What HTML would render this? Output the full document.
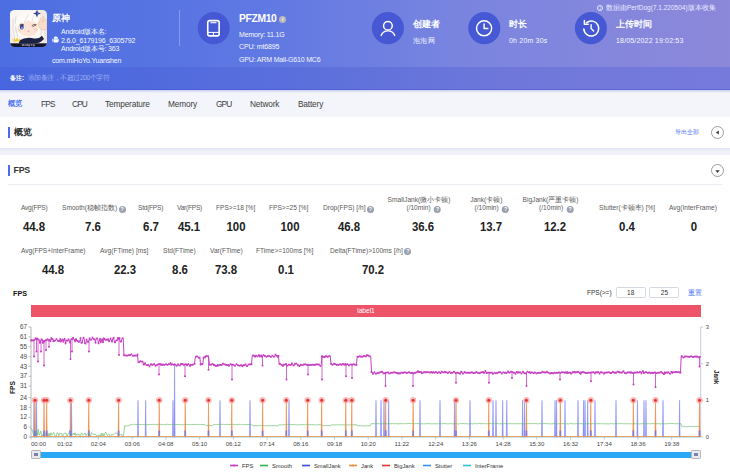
<!DOCTYPE html>
<html lang="zh">
<head>
<meta charset="utf-8">
<title>PerfDog</title>
<style>
*{box-sizing:border-box;margin:0;padding:0}
html,body{width:730px;height:473px;overflow:hidden;background:#fff}
body{font-family:"Liberation Sans",sans-serif;position:relative;color:#333}
.abs{position:absolute;white-space:nowrap;line-height:1}
#hdr{position:absolute;left:0;top:0;width:730px;height:67px;background:linear-gradient(90deg,#4c6ee2 0%,#5f78e3 35%,#7b85df 65%,#8c88da 100%)}
#note{position:absolute;left:0;top:66.5px;width:730px;height:23.5px;background:linear-gradient(90deg,#4766df 0%,#5a6fdc 40%,#6f78da 70%,#757adb 100%)}
#tabs{position:absolute;left:0;top:90px;width:730px;height:27px;background:#f4f5fb}
#note:after{content:"";position:absolute;left:0;bottom:0;width:100%;height:1.2px;background:rgba(60,70,205,.35)}
#tabs:before{content:"";position:absolute;left:0;top:0;width:100%;height:3px;background:linear-gradient(#c9cdf2,#f4f5fb)}
#card1{position:absolute;left:0;top:116.6px;width:730px;height:31px;background:#fff}
#gap{position:absolute;left:0;top:147.5px;width:730px;height:7.6px;background:#f1f2f9}
#gap:before{content:"";position:absolute;left:0;top:0;width:100%;height:3px;background:linear-gradient(#dfe1f2,#f1f2f9)}
#card2{position:absolute;left:0;top:155px;width:730px;height:318px;background:#fff}
.w{color:#fff}
.h1{font-weight:bold;font-size:10.5px;color:#fff}
.sm{font-size:7px;letter-spacing:-0.17px;color:#f6f7ff}
.circ{position:absolute;width:32px;height:32px;border-radius:50%;background:#4556d3}
.tab{font-size:8.3px;letter-spacing:-0.16px;color:#3c3c3c;top:99.8px}
.lab{font-size:6.6px;color:#5a5a5a}
.val{font-size:12.4px;font-weight:bold;color:#222;transform:translateX(-50%) scaleX(.92)}
.ctr{transform:translateX(-50%);text-align:center}
.q{display:inline-block;width:7px;height:7px;border-radius:50%;background:#9aa0ad;color:#fff;font-size:5.4px;line-height:7px;text-align:center;font-weight:bold;vertical-align:-0.6px;margin-left:1.5px}
.btn{position:absolute;width:13px;height:13px;border-radius:50%;border:0.8px solid #9c9c9c;background:#fff}
.inp{position:absolute;height:11px;border-radius:1.5px;border:0.9px solid #d4d8e0;background:#fff;font-size:6.5px;line-height:9.5px;text-align:center;color:#333}
.chart{position:absolute;left:0;top:0}
</style>
</head>
<body>
<div id="hdr"></div>
<div id="note"></div>
<div id="tabs"></div>
<div id="card1"></div>
<div id="gap"></div>
<div id="card2"></div>

<!-- app icon -->
<svg class="abs" style="left:10px;top:10px" width="37" height="37" viewBox="0 0 37 37">
<defs><clipPath id="ic"><rect width="37" height="37" rx="4.6"/></clipPath></defs>
<g clip-path="url(#ic)">
<rect width="37" height="37" fill="#f1e9df"/>
<path d="M0,2 Q8,-2 21,0 Q31,2 33,13 L34,27 Q31,32 26,30 L7,32 Q2,30 1,20 Z" fill="#faf7f3"/>
<path d="M3,8 Q2,20 5,30 M6,6 Q4,18 8,27 M30,8 Q32,16 31,26" stroke="#d9d2cf" stroke-width="0.8" fill="none"/>
<ellipse cx="18" cy="18.3" rx="10.4" ry="8.2" fill="#fbe5d6"/>
<ellipse cx="9.5" cy="20.5" rx="1.8" ry="1" fill="#f6c9bd" opacity=".7"/><ellipse cx="25.5" cy="19.5" rx="1.8" ry="1" fill="#f6c9bd" opacity=".7"/>
<path d="M5,15 Q8,4 19,2.5 Q27,4 29,12 Q25,9 22,13.5 Q19,7 13.5,14 Q10,10 6,18 Z" fill="#fdfbf8"/>
<path d="M13.5,14 Q16,8 19,4 M22,13.5 Q22,8 24,5" stroke="#d8d0cc" stroke-width="0.6" fill="none"/>
<ellipse cx="11.8" cy="16.9" rx="1.9" ry="2.7" fill="#34408e"/>
<ellipse cx="11.9" cy="18" rx="1.1" ry="1.2" fill="#7c90e4"/>
<path d="M9.6,15.2 Q11.6,13.2 14,15" stroke="#3a2a2a" stroke-width="0.8" fill="none"/>
<path d="M21.8,15.8 Q24,13.6 26.3,14.8 M22.6,16.8 Q24.6,15.4 26.3,14.8" stroke="#4e352e" stroke-width="0.7" fill="none"/>
<path d="M17.6,21 Q18.6,22.3 19.7,20.8 Z" fill="#d0544e"/>
<path d="M28,13 L32.5,6.5 L34.4,7.6 L32,12.5 L36,9 L37,10.5 V20 L31,19.5 Q28.5,17 28,13Z" fill="#f8dcc8" stroke="#dca98f" stroke-width="0.4"/>
<path d="M27,-0.2 L28.1,2.5 L31,3.5 L28.1,4.6 L27,7.6 L25.9,4.6 L23,3.5 L25.9,2.5Z" fill="#2b3b88"/>
<path d="M27,1.5 L27.6,3 L29,3.5 L27.6,4 L27,5.6 Z" fill="#5a78d4"/>
<path d="M26.5,22 Q31,24 33.5,31.5 Q29,31.5 26.5,28Z" fill="#faf7f3"/>
<path d="M9,30.5 Q16,26.6 24,28.4 Q29,29.2 32,25.8 L34,29 Q30,33.6 24,33.6 L9,33.6Z" fill="#1d2144"/>
<path d="M3.3,31.6 L3.8,27.8 L5.8,30 L7.1,27.2 L8.4,30 L10.2,28.4 L10,31.6Z" fill="#edcc3e"/>
<rect x="0" y="33.3" width="37" height="3.7" fill="#15162b"/>
<path d="M12.2,36 V34.6 H13 V36 M13,34.6 H13.9 V36 M15,34.4 V36 M16,34 V36 M16,35 H17.6 M17.6,34 V36 M18.6,34.6 H19.8 V36 H18.6Z M20.8,34 L21.6,35 L22.4,34 M21.6,35 V36 M23.2,34.6 H24.4 V36 H23.2Z" stroke="#e6e6ee" stroke-width="0.45" fill="none"/>
</g></svg>

<div class="abs h1" style="left:52px;top:13.5px;font-size:9px">原神</div>
<div class="abs sm" style="left:61px;top:28px">Android版本名:</div>
<svg class="abs" style="left:51.8px;top:36.2px" width="7.6" height="7.6" viewBox="0 0 14 14"><path d="M3,5 a4,4 0 0 1 8,0 z M3,6 h8 v5 a1,1 0 0 1 -1,1 h-6 a1,1 0 0 1 -1,-1z M0.6,6.2 a0.9,0.9 0 0 1 1.8,0 v3.6 a0.9,0.9 0 0 1 -1.8,0z M11.6,6.2 a0.9,0.9 0 0 1 1.8,0 v3.6 a0.9,0.9 0 0 1 -1.8,0z" fill="#fff"/></svg>
<div class="abs sm" style="left:61px;top:36.5px">2.6.0_6179196_6305792</div>
<div class="abs sm" style="left:61px;top:45px">Android版本号: 363</div>
<div class="abs sm" style="left:52px;top:56.5px">com.miHoYo.Yuanshen</div>
<div class="abs" style="left:179px;top:10px;width:1px;height:36px;background:rgba(255,255,255,.28)"></div>

<!-- device -->
<svg class="chart" width="730" height="70" viewBox="0 0 730 70">
<g fill="#4658d4"><circle cx="213.7" cy="28.1" r="16.05"/><circle cx="387.9" cy="28.1" r="16.05"/><circle cx="484.3" cy="28.1" r="16.05"/><circle cx="590.9" cy="28.1" r="16.05"/></g>
<g fill="none" stroke="#fff" stroke-linecap="round" stroke-linejoin="round">
<rect x="207.75" y="20.65" width="11.4" height="15.2" rx="1.9" stroke-width="1.6"/>
<path d="M210.4,22.7 H216.5" stroke-width="1.1" stroke-linecap="butt"/>
<path d="M208,32.4 H219 M213.45,32.6 V35.6" stroke-width="1.0" stroke-linecap="butt"/>
<circle cx="387.9" cy="25.75" r="4.35" stroke-width="1.45"/>
<path d="M381.2,35.4 A7.3,7.3 0 0 1 394.7,35.4" stroke-width="1.45"/>
<circle cx="484.1" cy="28.3" r="7.55" stroke-width="1.5"/>
<path d="M484.1,23.9 V28.4 H487.8" stroke-width="1.5"/>
<path d="M586.6,22.6 A7.5,7.5 0 1 1 583.8,28.9" stroke-width="1.5"/>
<path d="M584.4,20.6 V24.2 H588.2" stroke-width="1.5"/>
<path d="M591.1,24.6 V28.5 L593.6,31" stroke-width="1.4"/>
</g></svg>
<div class="abs h1" style="left:239px;top:14px;font-size:10.3px;letter-spacing:-0.33px">PFZM10</div>
<div class="abs" style="left:279.3px;top:15.5px;width:7px;height:7px;border-radius:50%;background:#b9b7b9;color:#fff;font-size:5.5px;line-height:7px;text-align:center;font-weight:bold;font-style:italic">i</div>
<div class="abs sm" style="left:239px;top:30.8px">Memory: 11.1G</div>
<div class="abs sm" style="left:239px;top:43.4px">CPU: mt6895</div>
<div class="abs sm" style="left:239px;top:56px">GPU: ARM Mali-G610 MC6</div>

<!-- creator -->
<div class="abs h1" style="left:413px;top:19.5px;font-size:9.2px">创建者</div>
<div class="abs sm" style="left:413px;top:37px">泡泡 网</div>

<!-- duration -->
<div class="abs h1" style="left:509px;top:19.5px;font-size:9.2px">时长</div>
<div class="abs sm" style="left:509px;top:37px;letter-spacing:0.19px">0h 20m 30s</div>

<!-- upload -->
<div class="abs h1" style="left:616px;top:19.5px;font-size:9.2px">上传时间</div>
<div class="abs sm" style="left:616px;top:37px;letter-spacing:0.17px">18/05/2022 19:02:53</div>

<div class="abs" style="left:597px;top:4.5px;font-size:6.5px;color:#e9ebff"><span style="display:inline-block;width:6.4px;height:6.4px;border:0.55px solid #e9ebff;border-radius:50%;font-size:4.6px;line-height:5.3px;text-align:center;vertical-align:0px;margin-right:2.5px">i</span>数据由PerfDog(7.1.220504)版本收集</div>

<!-- note -->
<div class="abs" style="left:10px;top:74.7px;font-size:6.4px;color:#fff;font-weight:bold">备注:</div>
<div class="abs" style="left:27.5px;top:74.8px;font-size:6.7px;letter-spacing:-0.45px;color:#9fb0f3">添加备注，不超过200个字符</div>

<!-- tabs -->
<div class="abs tab" style="left:8px;color:#3f6cf5;text-shadow:0 0 0.4px #3f6cf5;font-size:8px;top:100px;letter-spacing:0;transform:scaleX(.9);transform-origin:left center">概览</div>
<div class="abs tab" style="left:41px;letter-spacing:-0.85px">FPS</div>
<div class="abs tab" style="left:72px;letter-spacing:-0.85px">CPU</div>
<div class="abs tab" style="left:105px">Temperature</div>
<div class="abs tab" style="left:168px">Memory</div>
<div class="abs tab" style="left:216px;letter-spacing:-0.85px">GPU</div>
<div class="abs tab" style="left:250px">Network</div>
<div class="abs tab" style="left:298px">Battery</div>

<!-- card 1 -->
<div class="abs" style="left:8.2px;top:126.7px;width:2px;height:11px;background:#4a6cf0"></div>
<div class="abs" style="left:13.5px;top:127.8px;font-size:9.2px;font-weight:bold;color:#333">概览</div>
<div class="abs" style="left:675px;top:129.6px;font-size:5.8px;color:#3f6cf5">导出全部</div>
<div class="btn" style="left:710.5px;top:125.5px"></div>
<svg class="abs" style="left:714.5px;top:129.5px" width="5" height="5" viewBox="0 0 5 5"><path d="M3.8,0.4 V4.6 L0.9,2.5Z" fill="#333"/></svg>

<!-- card 2 header -->
<div class="abs" style="left:8.2px;top:165.3px;width:2px;height:11px;background:#4a6cf0"></div>
<div class="abs" style="left:13.5px;top:166.4px;font-size:8.8px;font-weight:bold;color:#333;letter-spacing:-0.2px">FPS</div>
<div class="btn" style="left:710.5px;top:164px"></div>
<svg class="abs" style="left:714.5px;top:168.5px" width="5" height="5" viewBox="0 0 5 5"><path d="M0.4,1.2 H4.6 L2.5,4.1Z" fill="#333"/></svg>
<div class="abs" style="left:8px;top:184.3px;width:714px;height:1px;background:#ececf2"></div>

<!-- stats row 1 -->
<div class="abs lab" style="left:21px;top:205px;letter-spacing:-0.25px">Avg(FPS)</div>
<div class="abs lab" style="left:62px;top:205px">Smooth(稳帧指数)<span class="q">?</span></div>
<div class="abs lab" style="left:138px;top:205px;letter-spacing:-0.25px">Std(FPS)</div>
<div class="abs lab" style="left:177px;top:205px;letter-spacing:-0.25px">Var(FPS)</div>
<div class="abs lab" style="left:216px;top:205px">FPS&gt;=18 [%]</div>
<div class="abs lab" style="left:269px;top:205px">FPS&gt;=25 [%]</div>
<div class="abs lab" style="left:323px;top:205px">Drop(FPS) [/h]<span class="q">?</span></div>
<div class="abs lab ctr" style="left:419px;top:196.5px">SmallJank(微小卡顿)</div><div class="abs lab ctr" style="left:423.7px;top:205px">(/10min) <span class="q">?</span></div>
<div class="abs lab ctr" style="left:486.3px;top:196.5px">Jank(卡顿)</div><div class="abs lab ctr" style="left:491.8px;top:205px">(/10min) <span class="q">?</span></div>
<div class="abs lab ctr" style="left:550.5px;top:196.5px">BigJank(严重卡顿)</div><div class="abs lab ctr" style="left:556.3px;top:205px">(/10min) <span class="q">?</span></div>
<div class="abs lab" style="left:599px;top:205px">Stutter(卡顿率) [%]</div>
<div class="abs lab" style="left:669px;top:205px">Avg(InterFrame)</div>

<div class="abs val" style="left:34px;top:221.1px">44.8</div>
<div class="abs val" style="left:93px;top:221.1px">7.6</div>
<div class="abs val" style="left:151px;top:221.1px">6.7</div>
<div class="abs val" style="left:189px;top:221.1px">45.1</div>
<div class="abs val" style="left:236px;top:221.1px">100</div>
<div class="abs val" style="left:289.5px;top:221.1px">100</div>
<div class="abs val" style="left:349px;top:221.1px">46.8</div>
<div class="abs val" style="left:423px;top:221.1px">36.6</div>
<div class="abs val" style="left:490.5px;top:221.1px">13.7</div>
<div class="abs val" style="left:554.5px;top:221.1px">12.2</div>
<div class="abs val" style="left:627px;top:221.1px">0.4</div>
<div class="abs val" style="left:693.5px;top:221.1px">0</div>

<!-- stats row 2 -->
<div class="abs lab" style="left:21px;top:247.5px">Avg(FPS+InterFrame)</div>
<div class="abs lab" style="left:100px;top:247.5px">Avg(FTime) [ms]</div>
<div class="abs lab" style="left:163px;top:247.5px">Std(FTime)</div>
<div class="abs lab" style="left:210px;top:247.5px">Var(FTime)</div>
<div class="abs lab" style="left:256px;top:247.5px">FTime&gt;=100ms [%]</div>
<div class="abs lab" style="left:330px;top:247.5px">Delta(FTime)&gt;100ms [/h]<span class="q">?</span></div>

<div class="abs val" style="left:53px;top:263.5px">44.8</div>
<div class="abs val" style="left:125px;top:263.5px">22.3</div>
<div class="abs val" style="left:180px;top:263.5px">8.6</div>
<div class="abs val" style="left:226px;top:263.5px">73.8</div>
<div class="abs val" style="left:286px;top:263.5px">0.1</div>
<div class="abs val" style="left:372.5px;top:263.5px">70.2</div>

<!-- chart header -->
<div class="abs" style="left:13px;top:289.5px;font-size:7.2px;font-weight:bold;color:#111">FPS</div>
<div class="abs" style="left:587px;top:290px;font-size:6.5px;color:#333">FPS(&gt;=)</div>
<div class="inp" style="left:615.6px;top:287px;width:30.2px">18</div>
<div class="inp" style="left:649.4px;top:287px;width:30px">25</div>
<div class="abs" style="left:688.3px;top:289.8px;font-size:6.5px;color:#3f6cf5">重置</div>

<div class="abs" style="left:31px;top:304.5px;width:670px;height:12px;background:#ee5468;color:#fff;font-size:6.6px;line-height:12px;text-align:center">label1</div>

<div class="abs" style="left:10.3px;top:393.5px;font-size:6.6px;font-weight:bold;color:#222;transform:rotate(-90deg);transform-origin:left top;">FPS</div>
<div class="abs" style="left:718.5px;top:369.5px;font-size:6.3px;font-weight:bold;color:#222;transform:rotate(90deg);transform-origin:left top;">Jank</div>

<svg class="chart" width="730" height="473" viewBox="0 0 730 473">
<g font-family="Liberation Sans, sans-serif" font-size="6.3" fill="#444"><line x1="28.5" x2="31" y1="327.0" y2="327.0" stroke="#999" stroke-width="0.6"/><text x="27" y="329.1" text-anchor="end">67</text><line x1="28.5" x2="31" y1="336.9" y2="336.9" stroke="#999" stroke-width="0.6"/><text x="27" y="339.0" text-anchor="end">61</text><line x1="28.5" x2="31" y1="346.7" y2="346.7" stroke="#999" stroke-width="0.6"/><text x="27" y="348.8" text-anchor="end">55</text><line x1="28.5" x2="31" y1="356.6" y2="356.6" stroke="#999" stroke-width="0.6"/><text x="27" y="358.7" text-anchor="end">49</text><line x1="28.5" x2="31" y1="366.4" y2="366.4" stroke="#999" stroke-width="0.6"/><text x="27" y="368.5" text-anchor="end">43</text><line x1="28.5" x2="31" y1="376.3" y2="376.3" stroke="#999" stroke-width="0.6"/><text x="27" y="378.4" text-anchor="end">37</text><line x1="28.5" x2="31" y1="386.1" y2="386.1" stroke="#999" stroke-width="0.6"/><text x="27" y="388.2" text-anchor="end">31</text><line x1="28.5" x2="31" y1="397.6" y2="397.6" stroke="#999" stroke-width="0.6"/><text x="27" y="399.7" text-anchor="end">24</text><line x1="28.5" x2="31" y1="407.4" y2="407.4" stroke="#999" stroke-width="0.6"/><text x="27" y="409.5" text-anchor="end">18</text><line x1="28.5" x2="31" y1="417.3" y2="417.3" stroke="#999" stroke-width="0.6"/><text x="27" y="419.4" text-anchor="end">12</text><line x1="28.5" x2="31" y1="427.1" y2="427.1" stroke="#999" stroke-width="0.6"/><text x="27" y="429.2" text-anchor="end">6</text><line x1="28.5" x2="31" y1="437.0" y2="437.0" stroke="#999" stroke-width="0.6"/><text x="27" y="439.1" text-anchor="end">0</text><line x1="700.7" x2="703.2" y1="437.0" y2="437.0" stroke="#aab" stroke-width="0.6"/><text x="705.8" y="439.0" font-size="5.8">0</text><line x1="700.7" x2="703.2" y1="400.3" y2="400.3" stroke="#aab" stroke-width="0.6"/><text x="705.8" y="402.3" font-size="5.8">1</text><line x1="700.7" x2="703.2" y1="363.7" y2="363.7" stroke="#aab" stroke-width="0.6"/><text x="705.8" y="365.7" font-size="5.8">2</text><line x1="700.7" x2="703.2" y1="327.0" y2="327.0" stroke="#aab" stroke-width="0.6"/><text x="705.8" y="329.0" font-size="5.8">3</text><line x1="31.0" x2="31.0" y1="437" y2="439.5" stroke="#999" stroke-width="0.6"/><text x="38.5" y="446.4" text-anchor="middle" font-size="6.05">00:00</text><line x1="64.7" x2="64.7" y1="437" y2="439.5" stroke="#999" stroke-width="0.6"/><text x="64.7" y="446.4" text-anchor="middle" font-size="6.05">01:02</text><line x1="98.4" x2="98.4" y1="437" y2="439.5" stroke="#999" stroke-width="0.6"/><text x="98.4" y="446.4" text-anchor="middle" font-size="6.05">02:04</text><line x1="132.2" x2="132.2" y1="437" y2="439.5" stroke="#999" stroke-width="0.6"/><text x="132.2" y="446.4" text-anchor="middle" font-size="6.05">03:06</text><line x1="165.9" x2="165.9" y1="437" y2="439.5" stroke="#999" stroke-width="0.6"/><text x="165.9" y="446.4" text-anchor="middle" font-size="6.05">04:08</text><line x1="199.6" x2="199.6" y1="437" y2="439.5" stroke="#999" stroke-width="0.6"/><text x="199.6" y="446.4" text-anchor="middle" font-size="6.05">05:10</text><line x1="233.3" x2="233.3" y1="437" y2="439.5" stroke="#999" stroke-width="0.6"/><text x="233.3" y="446.4" text-anchor="middle" font-size="6.05">06:12</text><line x1="267.1" x2="267.1" y1="437" y2="439.5" stroke="#999" stroke-width="0.6"/><text x="267.1" y="446.4" text-anchor="middle" font-size="6.05">07:14</text><line x1="300.8" x2="300.8" y1="437" y2="439.5" stroke="#999" stroke-width="0.6"/><text x="300.8" y="446.4" text-anchor="middle" font-size="6.05">08:16</text><line x1="334.5" x2="334.5" y1="437" y2="439.5" stroke="#999" stroke-width="0.6"/><text x="334.5" y="446.4" text-anchor="middle" font-size="6.05">09:18</text><line x1="368.2" x2="368.2" y1="437" y2="439.5" stroke="#999" stroke-width="0.6"/><text x="368.2" y="446.4" text-anchor="middle" font-size="6.05">10:20</text><line x1="401.9" x2="401.9" y1="437" y2="439.5" stroke="#999" stroke-width="0.6"/><text x="401.9" y="446.4" text-anchor="middle" font-size="6.05">11:22</text><line x1="435.7" x2="435.7" y1="437" y2="439.5" stroke="#999" stroke-width="0.6"/><text x="435.7" y="446.4" text-anchor="middle" font-size="6.05">12:24</text><line x1="469.4" x2="469.4" y1="437" y2="439.5" stroke="#999" stroke-width="0.6"/><text x="469.4" y="446.4" text-anchor="middle" font-size="6.05">13:26</text><line x1="503.1" x2="503.1" y1="437" y2="439.5" stroke="#999" stroke-width="0.6"/><text x="503.1" y="446.4" text-anchor="middle" font-size="6.05">14:28</text><line x1="536.8" x2="536.8" y1="437" y2="439.5" stroke="#999" stroke-width="0.6"/><text x="536.8" y="446.4" text-anchor="middle" font-size="6.05">15:30</text><line x1="570.6" x2="570.6" y1="437" y2="439.5" stroke="#999" stroke-width="0.6"/><text x="570.6" y="446.4" text-anchor="middle" font-size="6.05">16:32</text><line x1="604.3" x2="604.3" y1="437" y2="439.5" stroke="#999" stroke-width="0.6"/><text x="604.3" y="446.4" text-anchor="middle" font-size="6.05">17:34</text><line x1="638.0" x2="638.0" y1="437" y2="439.5" stroke="#999" stroke-width="0.6"/><text x="638.0" y="446.4" text-anchor="middle" font-size="6.05">18:36</text><line x1="671.7" x2="671.7" y1="437" y2="439.5" stroke="#999" stroke-width="0.6"/><text x="671.7" y="446.4" text-anchor="middle" font-size="6.05">19:38</text></g>
<line x1="31" x2="31" y1="327" y2="437" stroke="#999" stroke-width="0.7"/>
<line x1="700.7" x2="700.7" y1="327" y2="437" stroke="#bdb9e8" stroke-width="0.8"/>
<line x1="31" x2="700.7" y1="437.3" y2="437.3" stroke="#8fd3ea" stroke-width="0.7"/>
<g fill="#7078f4" fill-opacity="0.8" stroke="#6a73f3" stroke-width="0.5" stroke-opacity="0.85"><path d="M33.5,437.0 L34.0,400.3 L34.5,437.0Z"/><path d="M36.0,437.0 L36.5,400.3 L37.0,437.0Z"/><path d="M71.0,437.0 L71.5,400.3 L72.0,437.0Z"/><path d="M137.5,437.0 L138.0,400.3 L138.5,437.0Z"/><path d="M145.2,437.0 L145.7,400.3 L146.2,437.0Z"/><path d="M172.5,437.0 L173.0,400.3 L173.5,437.0Z"/><path d="M174.1,437.0 L174.6,363.7 L175.1,437.0Z"/><path d="M219.5,437.0 L220.0,400.3 L220.5,437.0Z"/><path d="M249.5,437.0 L250.0,400.3 L250.5,437.0Z"/><path d="M288.5,437.0 L289.0,400.3 L289.5,437.0Z"/><path d="M375.5,437.0 L376.0,400.3 L376.5,437.0Z"/><path d="M380.5,437.0 L381.0,400.3 L381.5,437.0Z"/><path d="M383.5,437.0 L384.0,400.3 L384.5,437.0Z"/><path d="M388.2,437.0 L388.7,400.3 L389.2,437.0Z"/><path d="M419.5,437.0 L420.0,400.3 L420.5,437.0Z"/><path d="M439.5,437.0 L440.0,400.3 L440.5,437.0Z"/><path d="M454.0,437.0 L454.5,400.3 L455.0,437.0Z"/><path d="M469.5,437.0 L470.0,400.3 L470.5,437.0Z"/><path d="M492.5,437.0 L493.0,400.3 L493.5,437.0Z"/><path d="M495.5,437.0 L496.0,400.3 L496.5,437.0Z"/><path d="M502.2,437.0 L502.7,400.3 L503.2,437.0Z"/><path d="M506.3,437.0 L506.8,400.3 L507.3,437.0Z"/><path d="M522.1,437.0 L522.6,400.3 L523.1,437.0Z"/><path d="M524.0,437.0 L524.5,400.3 L525.0,437.0Z"/><path d="M541.5,437.0 L542.0,400.3 L542.5,437.0Z"/><path d="M554.5,437.0 L555.0,400.3 L555.5,437.0Z"/><path d="M556.0,437.0 L556.5,400.3 L557.0,437.0Z"/><path d="M564.5,437.0 L565.0,400.3 L565.5,437.0Z"/><path d="M577.5,437.0 L578.0,400.3 L578.5,437.0Z"/><path d="M583.1,437.0 L583.6,400.3 L584.1,437.0Z"/><path d="M584.5,437.0 L585.0,400.3 L585.5,437.0Z"/><path d="M587.2,437.0 L587.7,400.3 L588.2,437.0Z"/><path d="M594.5,437.0 L595.0,400.3 L595.5,437.0Z"/><path d="M615.5,437.0 L616.0,400.3 L616.5,437.0Z"/><path d="M636.9,437.0 L637.4,400.3 L637.9,437.0Z"/><path d="M643.5,437.0 L644.0,400.3 L644.5,437.0Z"/><path d="M645.5,437.0 L646.0,400.3 L646.5,437.0Z"/><path d="M662.5,437.0 L663.0,400.3 L663.5,437.0Z"/><path d="M679.1,437.0 L679.6,400.3 L680.1,437.0Z"/></g>
<path d="M31.0,428.0 L32.0,429.6 L32.8,432.4 L33.7,435.4 L34.6,433.7 L35.5,435.7 L36.4,431.0 L37.3,435.1 L38.2,429.1 L39.1,435.3 L40.0,433.2 L40.9,431.1 L41.8,436.7 L42.7,435.0 L43.6,433.6 L44.5,434.5 L45.4,435.4 L46.3,431.2 L47.2,434.3 L48.1,436.7 L49.0,433.1 L49.9,436.7 L50.8,432.7 L51.7,435.2 L52.6,434.2 L53.5,432.5 L54.4,434.2 L55.3,436.4 L56.2,436.7 L57.1,432.6 L58.0,433.3 L58.9,435.6 L59.8,433.1 L60.7,433.6 L61.6,433.4 L62.5,436.7 L63.4,434.8 L64.3,433.0 L65.2,433.3 L66.1,433.1 L67.0,436.7 L67.9,434.1 L68.8,433.6 L69.7,430.6 L70.6,435.8 L71.5,434.9 L72.4,434.3 L73.3,433.1 L74.2,435.0 L75.1,432.7 L76.0,435.5 L76.9,434.0 L77.8,435.2 L78.7,434.1 L79.6,435.4 L80.5,436.7 L81.4,432.8 L82.3,433.9 L83.2,435.2 L84.1,434.1 L85.0,432.9 L85.9,435.8 L86.8,434.5 L87.7,433.6 L88.6,433.6 L89.5,434.9 L90.4,436.7 L91.3,432.5 L92.2,433.9 L93.1,434.4 L94.0,434.8 L94.9,434.0 L95.8,435.0 L96.7,435.9 L97.6,435.5 L98.5,435.3 L99.4,435.3 L100.3,436.1 L101.2,433.4 L102.1,436.3 L103.0,433.4 L103.9,435.9 L104.8,433.9 L105.7,432.3 L106.6,434.1 L107.5,435.5 L108.4,434.3 L109.3,434.2 L110.2,436.7 L111.1,435.3 L112.0,434.1 L112.9,435.1 L113.8,434.3 L114.7,433.3 L115.6,433.2 L116.5,433.0 L117.4,433.5 L118.3,434.8 L119.2,434.4 L120.1,434.8 L121.0,434.8 L121.9,434.6 L122.8,436.7 L123.7,434.9 L124.6,425.8 L125.5,426.0 L126.4,425.8 L127.3,425.8 L128.2,425.9 L129.1,425.6 L130.0,424.9 L130.9,424.5 L131.8,424.8 L132.7,424.4 L133.6,424.2 L134.5,424.9 L135.4,424.5 L136.3,424.5 L137.2,424.6 L138.1,424.4 L139.0,424.8 L139.9,424.4 L140.8,424.5 L141.7,424.5 L142.6,424.6 L143.5,424.4 L144.4,424.6 L145.3,424.5 L146.2,424.6 L147.1,424.8 L148.0,424.5 L148.9,424.5 L149.8,424.4 L150.7,424.6 L151.6,424.5 L152.5,424.4 L153.4,424.5 L154.3,424.4 L155.2,424.3 L156.1,424.6 L157.0,424.8 L157.9,424.4 L158.8,424.3 L159.7,424.4 L160.6,424.4 L161.5,424.6 L162.4,424.6 L163.3,424.4 L164.2,424.6 L165.1,424.8 L166.0,424.7 L166.9,424.2 L167.8,424.3 L168.7,424.6 L169.6,424.6 L170.5,424.5 L171.4,424.6 L172.3,424.4 L173.2,424.5 L174.1,424.7 L175.0,424.4 L175.9,424.6 L176.8,424.5 L177.7,424.5 L178.6,424.6 L179.5,424.5 L180.4,424.6 L181.3,424.8 L182.2,424.8 L183.1,424.7 L184.0,424.6 L184.9,424.5 L185.8,424.5 L186.7,424.4 L187.6,424.5 L188.5,424.6 L189.4,424.6 L190.3,424.8 L191.2,424.5 L192.1,424.5 L193.0,424.5 L193.9,424.5 L194.8,424.5 L195.7,424.4 L196.6,424.5 L197.5,424.4 L198.4,424.4 L199.3,424.5 L200.2,424.4 L201.1,424.6 L202.0,424.6 L202.9,424.6 L203.8,424.6 L204.7,424.3 L205.6,425.3 L206.5,425.5 L207.4,425.4 L208.3,425.4 L209.2,425.4 L210.1,425.3 L211.0,425.7 L211.9,425.6 L212.8,425.4 L213.7,424.3 L214.6,424.5 L215.5,424.6 L216.4,424.6 L217.3,424.6 L218.2,424.6 L219.1,424.3 L220.0,424.6 L220.9,424.5 L221.8,424.2 L222.7,424.4 L223.6,424.5 L224.5,424.6 L225.4,424.5 L226.3,424.3 L227.2,424.4 L228.1,424.4 L229.0,424.5 L229.9,424.5 L230.8,424.5 L231.7,424.5 L232.6,424.4 L233.5,424.7 L234.4,424.5 L235.3,424.5 L236.2,424.6 L237.1,424.6 L238.0,424.4 L238.9,424.3 L239.8,424.4 L240.7,424.5 L241.6,424.7 L242.5,424.3 L243.4,424.5 L244.3,424.5 L245.2,424.7 L246.1,424.5 L247.0,424.7 L247.9,424.5 L248.8,424.5 L249.7,424.5 L250.6,424.5 L251.5,424.6 L252.4,425.5 L253.3,425.8 L254.2,425.9 L255.1,425.7 L256.0,425.8 L256.9,425.8 L257.8,425.7 L258.7,425.6 L259.6,425.8 L260.5,425.7 L261.4,425.5 L262.3,425.6 L263.2,425.7 L264.1,425.7 L265.0,425.7 L265.9,425.7 L266.8,425.6 L267.7,425.7 L268.6,426.0 L269.5,425.7 L270.4,425.8 L271.3,425.6 L272.2,425.8 L273.1,425.7 L274.0,425.4 L274.9,425.8 L275.8,425.8 L276.7,425.9 L277.6,426.0 L278.5,425.9 L279.4,424.6 L280.3,424.8 L281.2,424.9 L282.1,424.9 L283.0,424.6 L283.9,424.8 L284.8,424.7 L285.7,424.6 L286.6,424.5 L287.5,424.4 L288.4,424.6 L289.3,424.7 L290.2,424.7 L291.1,424.4 L292.0,424.5 L292.9,424.7 L293.8,424.6 L294.7,424.6 L295.6,424.7 L296.5,424.8 L297.4,424.9 L298.3,424.8 L299.2,424.9 L300.1,424.5 L301.0,424.6 L301.9,424.8 L302.8,424.5 L303.7,424.6 L304.6,424.9 L305.5,424.4 L306.4,424.6 L307.3,424.4 L308.2,424.8 L309.1,424.6 L310.0,424.6 L310.9,424.7 L311.8,424.7 L312.7,424.5 L313.6,424.9 L314.5,424.8 L315.4,424.9 L316.3,424.8 L317.2,424.8 L318.1,424.6 L319.0,424.7 L319.9,424.7 L320.8,424.8 L321.7,424.7 L322.6,425.5 L323.5,425.6 L324.4,425.7 L325.3,425.7 L326.2,425.5 L327.1,425.7 L328.0,425.6 L328.9,425.5 L329.8,425.7 L330.7,425.6 L331.6,425.0 L332.5,424.7 L333.4,424.8 L334.3,425.1 L335.2,424.8 L336.1,425.0 L337.0,424.7 L337.9,424.9 L338.8,424.9 L339.7,424.8 L340.6,424.9 L341.5,424.8 L342.4,424.9 L343.3,424.8 L344.2,424.9 L345.1,424.8 L346.0,425.2 L346.9,424.7 L347.8,424.8 L348.7,425.1 L349.6,424.8 L350.5,424.8 L351.4,424.7 L352.3,425.0 L353.2,424.6 L354.1,424.9 L355.0,424.5 L355.9,424.9 L356.8,424.8 L357.7,425.9 L358.6,426.0 L359.5,425.7 L360.4,425.7 L361.3,425.6 L362.2,425.7 L363.1,425.9 L364.0,426.1 L364.9,425.9 L365.8,425.9 L366.7,425.9 L367.6,425.8 L368.5,425.8 L369.4,425.9 L370.3,425.8 L371.2,423.7 L372.1,423.7 L373.0,423.6 L373.9,423.6 L374.8,423.8 L375.7,423.9 L376.6,423.5 L377.5,423.7 L378.4,423.6 L379.3,423.9 L380.2,423.7 L381.1,423.7 L382.0,423.9 L382.9,423.8 L383.8,423.6 L384.7,423.6 L385.6,423.5 L386.5,423.8 L387.4,423.9 L388.3,423.6 L389.2,423.6 L390.1,423.7 L391.0,423.9 L391.9,423.6 L392.8,423.6 L393.7,423.6 L394.6,423.8 L395.5,423.7 L396.4,423.6 L397.3,423.8 L398.2,423.9 L399.1,423.7 L400.0,423.6 L400.9,423.7 L401.8,423.6 L402.7,423.8 L403.6,423.7 L404.5,423.7 L405.4,423.6 L406.3,423.5 L407.2,423.7 L408.1,423.4 L409.0,423.5 L409.9,423.6 L410.8,423.6 L411.7,423.5 L412.6,423.7 L413.5,423.7 L414.4,423.8 L415.3,423.6 L416.2,423.5 L417.1,423.6 L418.0,423.6 L418.9,423.7 L419.8,423.7 L420.7,423.9 L421.6,423.6 L422.5,423.8 L423.4,423.8 L424.3,423.8 L425.2,423.8 L426.1,423.6 L427.0,423.6 L427.9,423.9 L428.8,423.6 L429.7,423.6 L430.6,423.8 L431.5,423.9 L432.4,423.8 L433.3,423.8 L434.2,423.7 L435.1,423.7 L436.0,424.0 L436.9,423.7 L437.8,423.9 L438.7,423.6 L439.6,423.9 L440.5,423.8 L441.4,423.8 L442.3,423.8 L443.2,423.5 L444.1,423.6 L445.0,423.6 L445.9,423.7 L446.8,423.9 L447.7,423.8 L448.6,423.8 L449.5,423.8 L450.4,423.6 L451.3,423.8 L452.2,423.8 L453.1,423.8 L454.0,424.0 L454.9,423.6 L455.8,423.5 L456.7,423.7 L457.6,423.8 L458.5,424.1 L459.4,423.7 L460.3,423.5 L461.2,423.7 L462.1,423.6 L463.0,423.5 L463.9,423.6 L464.8,423.8 L465.7,423.6 L466.6,423.6 L467.5,423.9 L468.4,423.8 L469.3,423.9 L470.2,423.7 L471.1,423.6 L472.0,423.8 L472.9,424.0 L473.8,423.5 L474.7,423.7 L475.6,423.5 L476.5,423.9 L477.4,423.6 L478.3,423.4 L479.2,423.4 L480.1,423.7 L481.0,423.7 L481.9,423.7 L482.8,423.6 L483.7,423.6 L484.6,423.7 L485.5,423.9 L486.4,423.6 L487.3,423.8 L488.2,423.6 L489.1,423.7 L490.0,423.5 L490.9,423.6 L491.8,423.8 L492.7,423.7 L493.6,423.5 L494.5,423.8 L495.4,423.6 L496.3,423.5 L497.2,423.5 L498.1,423.6 L499.0,423.9 L499.9,423.9 L500.8,423.7 L501.7,423.7 L502.6,423.4 L503.5,423.8 L504.4,423.6 L505.3,423.6 L506.2,423.9 L507.1,423.8 L508.0,423.7 L508.9,423.8 L509.8,423.7 L510.7,423.6 L511.6,423.8 L512.5,423.6 L513.4,423.8 L514.3,423.8 L515.2,423.6 L516.1,423.8 L517.0,423.7 L517.9,423.5 L518.8,423.7 L519.7,423.7 L520.6,423.6 L521.5,423.7 L522.4,423.6 L523.3,423.9 L524.2,423.6 L525.1,423.8 L526.0,423.8 L526.9,423.5 L527.8,423.8 L528.7,423.5 L529.6,423.6 L530.5,423.5 L531.4,423.8 L532.3,423.5 L533.2,423.5 L534.1,423.7 L535.0,423.7 L535.9,423.4 L536.8,423.7 L537.7,423.8 L538.6,423.8 L539.5,423.6 L540.4,423.7 L541.3,423.7 L542.2,423.5 L543.1,423.7 L544.0,423.6 L544.9,423.5 L545.8,423.8 L546.7,423.6 L547.6,423.5 L548.5,423.9 L549.4,423.8 L550.3,423.8 L551.2,423.9 L552.1,423.6 L553.0,423.9 L553.9,423.6 L554.8,423.5 L555.7,423.9 L556.6,423.7 L557.5,424.0 L558.4,423.6 L559.3,423.8 L560.2,423.7 L561.1,423.7 L562.0,423.6 L562.9,423.7 L563.8,423.7 L564.7,423.8 L565.6,423.7 L566.5,423.9 L567.4,423.7 L568.3,424.0 L569.2,423.8 L570.1,423.4 L571.0,423.7 L571.9,423.9 L572.8,423.7 L573.7,423.8 L574.6,423.9 L575.5,423.8 L576.4,423.6 L577.3,423.7 L578.2,423.7 L579.1,423.8 L580.0,423.8 L580.9,423.5 L581.8,423.7 L582.7,423.8 L583.6,424.0 L584.5,423.9 L585.4,423.4 L586.3,423.9 L587.2,423.7 L588.1,423.7 L589.0,423.7 L589.9,423.7 L590.8,423.9 L591.7,423.8 L592.6,423.5 L593.5,423.8 L594.4,423.6 L595.3,423.9 L596.2,423.7 L597.1,423.7 L598.0,423.6 L598.9,423.8 L599.8,423.6 L600.7,423.7 L601.6,423.8 L602.5,423.6 L603.4,423.8 L604.3,423.8 L605.2,423.7 L606.1,424.1 L607.0,423.7 L607.9,423.8 L608.8,423.9 L609.7,423.8 L610.6,423.6 L611.5,423.8 L612.4,423.5 L613.3,423.9 L614.2,423.9 L615.1,423.5 L616.0,423.6 L616.9,423.6 L617.8,423.8 L618.7,423.6 L619.6,423.7 L620.5,423.6 L621.4,423.7 L622.3,423.5 L623.2,423.8 L624.1,423.8 L625.0,423.9 L625.9,423.5 L626.8,423.8 L627.7,423.8 L628.6,423.8 L629.5,423.8 L630.4,423.9 L631.3,423.7 L632.2,423.8 L633.1,423.8 L634.0,423.8 L634.9,423.7 L635.8,423.8 L636.7,423.7 L637.6,423.7 L638.5,423.7 L639.4,424.0 L640.3,423.8 L641.2,423.8 L642.1,423.6 L643.0,423.9 L643.9,423.8 L644.8,423.7 L645.7,423.7 L646.6,423.6 L647.5,423.8 L648.4,423.6 L649.3,423.9 L650.2,423.9 L651.1,423.5 L652.0,423.6 L652.9,423.6 L653.8,423.7 L654.7,423.6 L655.6,423.9 L656.5,423.6 L657.4,423.8 L658.3,423.6 L659.2,423.7 L660.1,424.0 L661.0,423.9 L661.9,423.6 L662.8,423.7 L663.7,423.8 L664.6,423.7 L665.5,423.8 L666.4,423.8 L667.3,423.7 L668.2,423.7 L669.1,423.5 L670.0,423.7 L670.9,423.5 L671.8,423.5 L672.7,423.5 L673.6,423.6 L674.5,423.7 L675.4,423.7 L676.3,423.7 L677.2,423.8 L678.1,423.7 L679.0,423.8 L679.9,423.5 L680.8,423.6 L681.7,426.6 L682.6,426.7 L683.5,426.5 L684.4,426.5 L685.3,426.6 L686.2,426.6 L687.1,426.8 L688.0,426.4 L688.9,426.5 L689.8,426.2 L690.7,426.5 L691.6,426.5 L692.5,426.3 L693.4,426.5 L694.3,426.5 L695.2,426.5 L696.1,426.6 L697.0,426.3 L697.9,426.4 L698.8,426.3 L699.7,426.5" fill="none" stroke="#5cb85f" stroke-width="0.7" stroke-opacity="0.9"/>
<g fill="#f08a3c" stroke="#ee7a30" stroke-width="0.5"><path d="M34.5,437.0 L35.0,400.3 L35.5,437.0Z"/><path d="M43.5,437.0 L44.0,400.3 L44.5,437.0Z"/><path d="M46.2,437.0 L46.7,400.3 L47.2,437.0Z"/><path d="M70.0,437.0 L70.4,400.3 L70.9,437.0Z"/><path d="M88.3,437.0 L88.8,400.3 L89.2,437.0Z"/><path d="M118.1,437.0 L118.6,400.3 L119.0,437.0Z"/><path d="M158.8,437.0 L159.2,400.3 L159.6,437.0Z"/><path d="M184.8,437.0 L185.2,400.3 L185.6,437.0Z"/><path d="M208.1,437.0 L208.5,400.3 L208.9,437.0Z"/><path d="M231.4,437.0 L231.8,400.3 L232.2,437.0Z"/><path d="M262.2,437.0 L262.6,400.3 L263.1,437.0Z"/><path d="M285.9,437.0 L286.3,400.3 L286.8,437.0Z"/><path d="M307.2,437.0 L307.7,400.3 L308.1,437.0Z"/><path d="M321.2,437.0 L321.7,400.3 L322.1,437.0Z"/><path d="M345.4,437.0 L345.8,400.3 L346.2,437.0Z"/><path d="M351.4,437.0 L351.8,400.3 L352.2,437.0Z"/><path d="M385.2,437.0 L385.7,400.3 L386.1,437.0Z"/><path d="M412.7,437.0 L413.1,400.3 L413.6,437.0Z"/><path d="M455.6,437.0 L456.0,400.3 L456.4,437.0Z"/><path d="M488.4,437.0 L488.8,400.3 L489.2,437.0Z"/><path d="M525.9,437.0 L526.4,400.3 L526.9,437.0Z"/><path d="M559.8,437.0 L560.3,400.3 L560.8,437.0Z"/><path d="M590.3,437.0 L590.8,400.3 L591.2,437.0Z"/><path d="M632.8,437.0 L633.3,400.3 L633.8,437.0Z"/><path d="M655.0,437.0 L655.5,400.3 L656.0,437.0Z"/><path d="M699.0,437.0 L699.5,400.3 L700.0,437.0Z"/></g>
<g fill="#6a73f3" fill-opacity="0.75"><rect x="34.1" y="430.5" width="1.8" height="6.5"/><rect x="43.1" y="430.5" width="1.8" height="6.5"/><rect x="45.8" y="430.5" width="1.8" height="6.5"/><rect x="69.5" y="430.5" width="1.8" height="6.5"/><rect x="87.9" y="430.5" width="1.8" height="6.5"/><rect x="117.7" y="430.5" width="1.8" height="6.5"/><rect x="158.3" y="430.5" width="1.8" height="6.5"/><rect x="184.3" y="430.5" width="1.8" height="6.5"/><rect x="207.6" y="430.5" width="1.8" height="6.5"/><rect x="230.9" y="430.5" width="1.8" height="6.5"/><rect x="261.7" y="430.5" width="1.8" height="6.5"/><rect x="285.4" y="430.5" width="1.8" height="6.5"/><rect x="306.8" y="430.5" width="1.8" height="6.5"/><rect x="320.8" y="430.5" width="1.8" height="6.5"/><rect x="344.9" y="430.5" width="1.8" height="6.5"/><rect x="350.9" y="430.5" width="1.8" height="6.5"/><rect x="384.8" y="430.5" width="1.8" height="6.5"/><rect x="412.2" y="430.5" width="1.8" height="6.5"/><rect x="455.1" y="430.5" width="1.8" height="6.5"/><rect x="487.9" y="430.5" width="1.8" height="6.5"/><rect x="525.5" y="430.5" width="1.8" height="6.5"/><rect x="559.4" y="430.5" width="1.8" height="6.5"/><rect x="589.9" y="430.5" width="1.8" height="6.5"/><rect x="632.4" y="430.5" width="1.8" height="6.5"/><rect x="654.6" y="430.5" width="1.8" height="6.5"/><rect x="698.6" y="430.5" width="1.8" height="6.5"/></g>
<line x1="31" x2="700.7" y1="436.5" y2="436.5" stroke="#f0954a" stroke-width="0.9"/>
<g fill="#f6a6a6" fill-opacity="0.75"><circle cx="35.0" cy="400.3" r="3.2"/><circle cx="44.0" cy="400.3" r="3.2"/><circle cx="46.7" cy="400.3" r="3.2"/><circle cx="70.4" cy="400.3" r="3.2"/><circle cx="88.8" cy="400.3" r="3.2"/><circle cx="118.6" cy="400.3" r="3.2"/><circle cx="159.2" cy="400.3" r="3.2"/><circle cx="185.2" cy="400.3" r="3.2"/><circle cx="208.5" cy="400.3" r="3.2"/><circle cx="231.8" cy="400.3" r="3.2"/><circle cx="262.6" cy="400.3" r="3.2"/><circle cx="286.3" cy="400.3" r="3.2"/><circle cx="307.7" cy="400.3" r="3.2"/><circle cx="321.7" cy="400.3" r="3.2"/><circle cx="345.8" cy="400.3" r="3.2"/><circle cx="351.8" cy="400.3" r="3.2"/><circle cx="385.7" cy="400.3" r="3.2"/><circle cx="413.1" cy="400.3" r="3.2"/><circle cx="456.0" cy="400.3" r="3.2"/><circle cx="488.8" cy="400.3" r="3.2"/><circle cx="526.4" cy="400.3" r="3.2"/><circle cx="560.3" cy="400.3" r="3.2"/><circle cx="590.8" cy="400.3" r="3.2"/><circle cx="633.3" cy="400.3" r="3.2"/><circle cx="655.5" cy="400.3" r="3.2"/><circle cx="699.5" cy="400.3" r="3.2"/></g>
<g fill="#e5322d"><circle cx="35.0" cy="400.3" r="1.5"/><circle cx="44.0" cy="400.3" r="1.5"/><circle cx="46.7" cy="400.3" r="1.5"/><circle cx="70.4" cy="400.3" r="1.5"/><circle cx="88.8" cy="400.3" r="1.5"/><circle cx="118.6" cy="400.3" r="1.5"/><circle cx="159.2" cy="400.3" r="1.5"/><circle cx="185.2" cy="400.3" r="1.5"/><circle cx="208.5" cy="400.3" r="1.5"/><circle cx="231.8" cy="400.3" r="1.5"/><circle cx="262.6" cy="400.3" r="1.5"/><circle cx="286.3" cy="400.3" r="1.5"/><circle cx="307.7" cy="400.3" r="1.5"/><circle cx="321.7" cy="400.3" r="1.5"/><circle cx="345.8" cy="400.3" r="1.5"/><circle cx="351.8" cy="400.3" r="1.5"/><circle cx="385.7" cy="400.3" r="1.5"/><circle cx="413.1" cy="400.3" r="1.5"/><circle cx="456.0" cy="400.3" r="1.5"/><circle cx="488.8" cy="400.3" r="1.5"/><circle cx="526.4" cy="400.3" r="1.5"/><circle cx="560.3" cy="400.3" r="1.5"/><circle cx="590.8" cy="400.3" r="1.5"/><circle cx="633.3" cy="400.3" r="1.5"/><circle cx="655.5" cy="400.3" r="1.5"/><circle cx="699.5" cy="400.3" r="1.5"/></g>
<path d="M31.0,340.6 L31.8,339.3 L32.5,340.5 L33.2,340.7 L34.0,340.1 L34.8,340.5 L35.5,338.3 L36.5,340.1 L37.0,338.4 L38.0,340.1 L38.5,339.5 L39.2,339.8 L40.0,342.9 L41.0,340.1 L41.5,339.3 L42.2,339.3 L43.0,342.9 L44.0,340.1 L44.5,341.6 L45.2,340.9 L46.0,340.1 L46.8,340.2 L47.5,339.3 L48.2,341.2 L49.0,340.1 L49.8,339.5 L50.5,341.2 L51.2,337.3 L52.0,339.2 L52.8,338.2 L53.5,341.2 L54.2,341.3 L55.0,340.7 L55.8,340.3 L56.5,339.1 L57.2,339.7 L58.0,340.9 L58.8,341.7 L59.5,341.0 L60.2,338.1 L61.0,341.5 L61.8,339.7 L62.5,339.4 L63.2,342.6 L64.0,340.1 L64.8,338.0 L65.5,343.4 L66.2,340.7 L67.0,340.3 L67.8,341.5 L68.5,339.3 L69.2,340.2 L70.0,342.5 L70.5,340.1 L71.5,339.0 L72.0,340.1 L73.0,337.8 L73.8,339.5 L74.5,339.9 L75.2,342.3 L76.0,339.1 L76.8,341.1 L77.5,340.9 L78.2,342.2 L79.0,341.7 L79.8,341.0 L80.5,338.0 L81.2,343.5 L82.0,342.5 L82.8,339.7 L83.5,337.8 L84.2,339.2 L85.0,343.3 L85.8,344.3 L86.5,339.5 L87.2,341.3 L88.0,342.0 L89.0,340.1 L89.5,338.3 L90.2,339.9 L91.0,339.7 L91.8,339.4 L92.5,337.5 L93.2,339.1 L94.0,339.3 L94.8,339.2 L95.5,342.7 L96.2,338.0 L97.0,338.6 L97.8,339.3 L98.5,343.4 L99.2,341.2 L100.0,338.8 L100.8,343.1 L101.5,340.4 L102.2,338.5 L103.0,342.3 L103.8,337.5 L104.5,339.2 L105.2,340.4 L106.0,339.6 L106.8,339.1 L107.5,339.9 L108.2,338.3 L109.0,341.2 L109.8,340.8 L110.5,338.4 L111.2,340.1 L112.0,341.6 L112.8,338.6 L113.5,337.7 L114.2,340.9 L115.0,342.4 L115.8,340.4 L116.5,340.4 L117.2,340.6 L118.0,337.8 L119.0,340.1 L119.5,338.1 L120.2,342.2 L121.0,341.4 L121.8,339.1 L122.5,338.3 L123.2,338.7 L124.0,355.4 L124.8,355.5 L125.5,355.5 L126.2,355.2 L127.0,355.7 L127.8,355.4 L128.5,355.2 L129.2,355.6 L130.0,355.1 L130.8,355.2 L131.5,354.3 L132.2,355.4 L133.0,355.8 L133.8,355.8 L134.5,355.6 L135.2,355.0 L136.0,355.8 L136.8,355.3 L137.5,354.4 L138.2,363.1 L139.0,362.2 L139.8,361.3 L140.5,361.2 L141.2,361.3 L142.0,361.7 L142.8,361.1 L143.5,364.6 L144.2,365.1 L145.0,363.2 L145.8,364.5 L146.5,365.1 L147.2,364.8 L148.0,364.9 L148.8,364.8 L149.5,366.5 L150.2,365.1 L151.0,364.1 L151.8,365.5 L152.5,364.8 L153.2,364.2 L154.0,364.2 L154.8,363.8 L155.5,365.8 L156.2,365.0 L157.0,365.0 L157.8,364.4 L158.5,364.1 L159.0,364.8 L160.0,364.1 L160.8,365.7 L161.5,364.3 L162.2,365.7 L163.0,364.7 L163.8,364.0 L164.5,364.9 L165.2,364.6 L166.0,364.3 L166.8,364.7 L167.5,364.8 L168.2,363.8 L169.0,364.1 L169.8,364.9 L170.5,363.0 L171.2,365.5 L172.0,364.2 L172.8,364.9 L173.5,364.7 L174.2,364.3 L175.0,364.6 L175.8,364.4 L176.5,365.7 L177.2,365.7 L178.0,364.4 L178.8,365.4 L179.5,365.4 L180.2,365.7 L181.0,364.0 L181.8,364.3 L182.5,363.8 L183.2,365.3 L184.0,364.8 L185.0,364.8 L185.5,364.3 L186.2,363.8 L187.0,365.3 L187.8,363.8 L188.5,364.1 L189.2,364.9 L190.0,366.0 L190.8,363.9 L191.5,364.8 L192.2,365.1 L193.0,364.5 L193.8,364.5 L194.5,363.8 L195.2,358.0 L196.0,356.7 L196.8,356.4 L197.5,356.5 L198.2,357.5 L199.0,357.8 L199.8,356.7 L200.5,364.7 L201.2,364.7 L202.0,363.9 L202.8,364.9 L203.5,357.7 L204.2,356.5 L205.0,357.4 L205.8,355.7 L206.5,356.0 L207.2,356.6 L208.0,356.2 L208.5,356.2 L209.5,364.7 L210.2,363.9 L211.0,364.8 L211.8,364.1 L212.5,363.8 L213.2,363.8 L214.0,365.2 L214.8,364.2 L215.5,365.9 L216.2,365.4 L217.0,366.0 L217.8,364.1 L218.5,365.5 L219.2,364.8 L220.0,364.9 L220.8,364.8 L221.5,365.1 L222.2,364.6 L223.0,363.6 L223.8,364.7 L224.5,364.4 L225.2,364.1 L226.0,364.9 L226.8,365.5 L227.5,365.1 L228.2,364.1 L229.0,365.8 L229.8,365.1 L230.5,364.1 L231.2,364.3 L232.0,364.8 L232.8,364.3 L233.5,364.7 L234.2,365.5 L235.0,365.7 L235.8,365.2 L236.5,364.2 L237.2,365.1 L238.0,365.3 L238.8,365.2 L239.5,365.7 L240.2,364.8 L241.0,365.5 L241.8,364.5 L242.5,366.2 L243.2,364.6 L244.0,365.2 L244.8,366.0 L245.5,364.3 L246.2,364.9 L247.0,366.2 L247.8,365.3 L248.5,364.6 L249.2,365.0 L250.0,364.3 L250.8,364.3 L251.5,364.3 L252.2,356.0 L253.0,355.4 L253.8,355.8 L254.5,355.9 L255.2,357.5 L256.0,355.7 L256.8,355.4 L257.5,356.4 L258.2,356.5 L259.0,355.0 L259.8,357.3 L260.5,355.9 L261.2,354.7 L262.0,356.8 L262.5,356.2 L263.5,355.0 L264.2,356.3 L265.0,355.9 L265.8,355.7 L266.5,356.8 L267.2,356.3 L268.0,356.0 L268.8,355.7 L269.5,356.2 L270.2,356.3 L271.0,356.9 L271.8,356.4 L272.5,355.7 L273.2,356.2 L274.0,356.8 L274.8,356.7 L275.5,354.6 L276.2,355.5 L277.0,355.8 L277.8,357.8 L278.5,355.8 L279.2,364.5 L280.0,363.7 L280.8,364.5 L281.5,364.8 L282.2,364.4 L283.0,366.0 L283.8,364.1 L284.5,364.6 L285.2,365.2 L286.0,363.9 L286.5,364.8 L287.5,365.6 L288.2,365.2 L289.0,364.6 L289.8,364.6 L290.5,365.0 L291.2,365.4 L292.0,363.4 L292.8,364.1 L293.5,365.5 L294.2,365.6 L295.0,363.7 L295.8,364.1 L296.5,363.6 L297.2,364.3 L298.0,365.3 L298.8,364.6 L299.5,366.1 L300.2,365.2 L301.0,364.8 L301.8,364.4 L302.5,365.2 L303.2,364.8 L304.0,364.5 L304.8,364.5 L305.5,364.4 L306.2,364.6 L307.0,365.0 L308.0,364.8 L308.5,364.7 L309.2,365.3 L310.0,365.2 L310.8,364.8 L311.5,364.8 L312.2,364.7 L313.0,364.8 L313.8,364.7 L314.5,364.8 L315.2,365.5 L316.0,364.5 L316.8,364.1 L317.5,364.5 L318.2,364.9 L319.0,364.5 L319.8,365.4 L320.5,365.9 L321.2,364.7 L322.0,356.2 L322.8,355.8 L323.5,356.9 L324.2,357.9 L325.0,356.9 L325.8,355.2 L326.5,356.5 L327.2,357.1 L328.0,356.7 L328.8,355.9 L329.5,355.9 L330.2,356.1 L331.0,363.8 L331.8,364.3 L332.5,364.8 L333.2,364.4 L334.0,363.7 L334.8,364.2 L335.5,364.1 L336.2,365.4 L337.0,364.9 L337.8,364.3 L338.5,364.9 L339.2,364.1 L340.0,364.4 L340.8,364.2 L341.5,364.9 L342.2,363.2 L343.0,364.0 L343.8,364.9 L344.5,364.7 L345.2,363.1 L346.0,364.8 L346.8,364.2 L347.5,364.1 L348.2,364.8 L349.0,365.5 L349.8,364.6 L350.5,364.5 L351.2,364.1 L352.0,364.8 L352.8,364.7 L353.5,364.2 L354.2,364.4 L355.0,364.6 L355.8,364.7 L356.5,364.9 L357.2,355.8 L358.0,356.9 L358.8,356.6 L359.5,356.2 L360.2,357.1 L361.0,356.5 L361.8,357.5 L362.5,356.6 L363.2,355.9 L364.0,355.9 L364.8,356.3 L365.5,356.4 L366.2,357.1 L367.0,355.1 L367.8,355.9 L368.5,355.5 L369.2,356.8 L370.0,356.3 L370.8,357.4 L371.5,372.2 L372.2,372.1 L373.0,373.8 L373.8,372.7 L374.5,372.2 L375.2,373.7 L376.0,373.8 L376.8,373.3 L377.5,373.0 L378.2,373.5 L379.0,372.6 L379.8,372.5 L380.5,372.2 L381.2,372.2 L382.0,371.7 L382.8,371.9 L383.5,373.5 L384.2,373.0 L385.0,373.3 L385.5,372.6 L386.5,372.7 L387.2,372.6 L388.0,372.3 L388.8,373.6 L389.5,373.4 L390.2,372.7 L391.0,372.8 L391.8,372.8 L392.5,372.7 L393.2,373.1 L394.0,372.2 L394.8,372.4 L395.5,372.7 L396.2,373.1 L397.0,372.8 L397.8,374.3 L398.5,373.3 L399.2,372.6 L400.0,373.6 L400.8,372.5 L401.5,372.5 L402.2,373.5 L403.0,372.8 L403.8,372.8 L404.5,372.4 L405.2,372.3 L406.0,372.7 L406.8,373.2 L407.5,372.7 L408.2,372.7 L409.0,372.2 L409.8,372.5 L410.5,373.1 L411.2,373.5 L412.0,372.9 L413.0,372.6 L413.5,373.3 L414.2,372.7 L415.0,372.9 L415.8,372.6 L416.5,372.3 L417.2,372.9 L418.0,371.2 L418.8,372.8 L419.5,372.0 L420.2,372.6 L421.0,371.9 L421.8,374.1 L422.5,373.1 L423.2,372.5 L424.0,372.3 L424.8,371.2 L425.5,372.4 L426.2,371.8 L427.0,372.2 L427.8,372.1 L428.5,372.3 L429.2,372.7 L430.0,372.3 L430.8,373.3 L431.5,371.9 L432.2,373.3 L433.0,372.5 L433.8,371.3 L434.5,372.8 L435.2,372.6 L436.0,371.9 L436.8,372.6 L437.5,373.1 L438.2,372.5 L439.0,372.3 L439.8,372.2 L440.5,373.1 L441.2,371.5 L442.0,371.6 L442.8,372.6 L443.5,372.5 L444.2,372.9 L445.0,371.8 L445.8,373.1 L446.5,372.2 L447.2,372.9 L448.0,373.1 L448.8,372.2 L449.5,371.8 L450.2,372.6 L451.0,373.1 L451.8,372.1 L452.5,372.7 L453.2,372.4 L454.0,371.7 L454.8,371.9 L455.5,373.0 L456.0,372.6 L457.0,372.6 L457.8,372.2 L458.5,373.0 L459.2,372.7 L460.0,373.7 L460.8,371.5 L461.5,371.8 L462.2,373.4 L463.0,373.6 L463.8,373.7 L464.5,371.9 L465.2,372.9 L466.0,372.7 L466.8,372.8 L467.5,372.7 L468.2,373.3 L469.0,372.6 L469.8,373.5 L470.5,372.7 L471.2,372.4 L472.0,372.4 L472.8,372.8 L473.5,373.2 L474.2,372.5 L475.0,372.9 L475.8,371.7 L476.5,372.2 L477.2,372.7 L478.0,372.9 L478.8,373.1 L479.5,373.2 L480.2,372.9 L481.0,372.5 L481.8,372.3 L482.5,372.3 L483.2,371.3 L484.0,373.1 L484.8,372.6 L485.5,370.9 L486.2,373.8 L487.0,373.0 L487.8,372.5 L488.5,372.5 L489.0,372.6 L490.0,372.8 L490.8,372.4 L491.5,372.6 L492.2,372.2 L493.0,373.8 L493.8,373.2 L494.5,372.6 L495.2,373.3 L496.0,373.3 L496.8,372.3 L497.5,373.0 L498.2,372.2 L499.0,372.2 L499.8,372.5 L500.5,372.3 L501.2,372.7 L502.0,373.5 L502.8,372.7 L503.5,372.4 L504.2,373.0 L505.0,372.7 L505.8,372.2 L506.5,373.2 L507.2,372.2 L508.0,371.5 L508.8,373.0 L509.5,372.6 L510.2,372.7 L511.0,371.7 L512.0,372.6 L512.5,372.1 L513.2,373.1 L514.0,372.7 L514.8,372.6 L515.5,373.7 L516.2,371.7 L517.0,372.1 L517.8,373.7 L518.5,372.2 L519.2,372.7 L520.0,372.4 L520.8,372.4 L521.5,373.6 L522.2,372.8 L523.0,371.7 L523.8,373.0 L524.5,373.3 L525.2,373.5 L526.0,373.4 L526.5,372.6 L527.5,371.6 L528.2,372.4 L529.0,372.5 L529.8,371.2 L530.5,373.0 L531.2,373.1 L532.0,372.3 L532.8,372.3 L533.5,373.3 L534.2,373.4 L535.0,372.5 L535.8,372.5 L536.5,373.5 L537.2,372.8 L538.0,373.0 L538.8,372.4 L539.5,372.7 L540.2,372.7 L541.0,372.9 L541.8,372.0 L542.5,371.8 L543.2,372.9 L544.0,372.1 L544.8,373.1 L545.5,372.6 L546.2,372.2 L547.0,371.7 L547.8,372.9 L548.5,372.7 L549.2,372.5 L550.0,373.6 L550.8,372.6 L551.5,373.1 L552.2,372.4 L553.0,373.3 L553.8,373.9 L554.5,372.6 L555.2,372.5 L556.0,373.0 L556.8,372.1 L557.5,372.8 L558.2,373.0 L559.0,372.3 L560.0,372.6 L560.5,373.1 L561.2,372.7 L562.0,372.1 L562.8,372.7 L563.5,372.4 L564.2,373.1 L565.0,372.5 L565.8,371.6 L566.5,373.1 L567.2,371.2 L568.0,373.0 L568.8,372.6 L569.5,372.5 L570.2,372.0 L571.0,373.4 L571.8,374.0 L572.5,372.3 L573.2,372.1 L574.0,372.3 L574.8,371.0 L575.5,372.5 L576.2,372.5 L577.0,372.1 L577.8,372.4 L578.5,371.6 L579.2,373.4 L580.0,372.9 L580.8,374.8 L581.5,372.1 L582.2,372.9 L583.0,372.1 L583.8,371.3 L584.5,372.6 L585.2,372.8 L586.0,373.0 L586.8,373.2 L587.5,373.0 L588.2,372.2 L589.0,372.6 L589.8,372.6 L590.5,372.7 L591.0,372.6 L592.0,372.3 L592.8,372.7 L593.5,372.2 L594.2,372.7 L595.0,373.4 L595.8,371.7 L596.5,372.4 L597.2,373.2 L598.0,372.0 L598.8,372.4 L599.5,373.6 L600.2,371.6 L601.0,372.4 L601.8,372.1 L602.5,372.5 L603.2,372.7 L604.0,373.6 L604.8,372.0 L605.5,372.6 L606.2,372.8 L607.0,372.4 L607.8,372.6 L608.5,372.2 L609.2,372.9 L610.0,372.7 L610.8,374.0 L611.5,372.9 L612.2,372.2 L613.0,371.8 L613.8,372.9 L614.5,372.7 L615.2,371.7 L616.0,372.8 L616.8,372.2 L617.5,371.6 L618.2,372.6 L619.0,371.9 L619.8,373.1 L620.5,372.5 L621.2,372.7 L622.0,372.6 L622.8,371.9 L623.5,371.2 L624.2,373.1 L625.0,373.0 L625.8,372.3 L626.5,373.3 L627.2,372.3 L628.0,372.3 L628.8,372.8 L629.5,372.3 L630.2,373.6 L631.0,372.2 L631.8,373.6 L632.5,373.1 L633.5,372.6 L634.0,372.9 L634.8,372.1 L635.5,372.6 L636.2,372.9 L637.0,372.3 L637.8,371.7 L638.5,372.6 L639.2,372.4 L640.0,371.9 L640.8,372.5 L641.5,373.4 L642.2,371.1 L643.0,371.3 L643.8,373.9 L644.5,372.7 L645.2,372.4 L646.0,372.0 L646.8,372.2 L647.5,372.8 L648.2,373.3 L649.0,372.6 L649.8,372.0 L650.5,373.3 L651.2,373.3 L652.0,372.7 L652.8,373.9 L653.5,372.8 L654.2,372.9 L655.0,372.4 L655.5,372.6 L656.5,373.2 L657.2,372.9 L658.0,372.7 L658.8,373.1 L659.5,372.6 L660.2,372.2 L661.0,371.9 L661.8,371.6 L662.5,373.1 L663.2,372.9 L664.0,374.2 L664.8,371.5 L665.5,373.1 L666.2,372.7 L667.0,372.3 L667.8,373.5 L668.5,372.4 L669.2,372.7 L670.0,373.8 L670.8,372.5 L671.5,371.9 L672.2,373.8 L673.0,372.1 L673.8,372.5 L674.5,372.3 L675.2,372.4 L676.0,371.8 L676.8,372.8 L677.5,372.1 L678.2,372.9 L679.0,372.2 L679.8,373.1 L680.5,372.7 L681.2,355.6 L682.0,356.4 L682.8,356.8 L683.5,357.4 L684.2,357.2 L685.0,356.6 L685.8,356.1 L686.5,356.5 L687.2,356.4 L688.0,356.7 L688.8,355.9 L689.5,357.0 L690.2,357.1 L691.0,356.2 L691.8,356.7 L692.5,356.9 L693.2,357.1 L694.0,356.9 L694.8,356.3 L695.5,356.5 L696.2,357.5 L697.0,356.5 L697.8,356.6 L698.5,357.3 L699.5,356.7 L700.0,356.9" fill="none" stroke="#c640c2" stroke-width="1.0" stroke-linejoin="round"/>
<path d="M34.0,340.1 V356.6 M36.5,340.1 V351.6 M38.0,340.1 V361.5 M41.0,340.1 V351.6 M44.0,340.1 V365.6 M46.0,340.1 V350.0 M49.0,340.1 V346.7 M70.5,340.1 V359.0 M72.0,340.1 V351.6 M89.0,340.1 V351.6 M119.0,340.1 V354.9 M159.0,364.8 V374.6 M185.0,364.8 V376.3 M208.5,356.2 V369.7 M232.0,364.8 V379.5 M262.5,356.2 V365.6 M286.5,364.8 V379.5 M308.0,364.8 V374.6 M322.0,356.2 V379.5 M346.0,364.8 V376.3 M352.0,364.8 V377.9 M385.5,372.6 V386.1 M413.0,372.6 V386.1 M456.0,372.6 V382.8 M489.0,372.6 V382.8 M512.0,372.6 V377.9 M526.5,372.6 V386.1 M560.0,372.6 V379.5 M591.0,372.6 V381.2 M633.5,372.6 V384.5 M655.5,372.6 V386.9 M699.5,356.7 V366.4 " fill="none" stroke="#c640c2" stroke-width="0.8"/>
<g fill="#c63dc0"><rect x="30.1" y="339.7" width="1.7" height="1.7"/><rect x="31.6" y="339.7" width="1.7" height="1.7"/><rect x="33.1" y="339.3" width="1.7" height="1.7"/><rect x="34.6" y="337.5" width="1.7" height="1.7"/><rect x="36.1" y="337.6" width="1.7" height="1.7"/><rect x="37.6" y="338.6" width="1.7" height="1.7"/><rect x="39.1" y="342.0" width="1.7" height="1.7"/><rect x="40.6" y="338.5" width="1.7" height="1.7"/><rect x="42.1" y="342.1" width="1.7" height="1.7"/><rect x="43.6" y="340.7" width="1.7" height="1.7"/><rect x="45.1" y="339.3" width="1.7" height="1.7"/><rect x="46.6" y="338.4" width="1.7" height="1.7"/><rect x="48.1" y="339.3" width="1.7" height="1.7"/><rect x="49.6" y="340.4" width="1.7" height="1.7"/><rect x="51.1" y="338.4" width="1.7" height="1.7"/><rect x="52.6" y="340.3" width="1.7" height="1.7"/><rect x="54.1" y="339.8" width="1.7" height="1.7"/><rect x="55.6" y="338.2" width="1.7" height="1.7"/><rect x="57.1" y="340.0" width="1.7" height="1.7"/><rect x="58.6" y="340.1" width="1.7" height="1.7"/><rect x="60.1" y="340.6" width="1.7" height="1.7"/><rect x="61.6" y="338.6" width="1.7" height="1.7"/><rect x="63.1" y="339.2" width="1.7" height="1.7"/><rect x="64.7" y="342.6" width="1.7" height="1.7"/><rect x="66.2" y="339.5" width="1.7" height="1.7"/><rect x="67.7" y="338.5" width="1.7" height="1.7"/><rect x="69.2" y="341.7" width="1.7" height="1.7"/><rect x="70.7" y="338.2" width="1.7" height="1.7"/><rect x="72.2" y="336.9" width="1.7" height="1.7"/><rect x="73.7" y="339.1" width="1.7" height="1.7"/><rect x="75.2" y="338.3" width="1.7" height="1.7"/><rect x="76.7" y="340.0" width="1.7" height="1.7"/><rect x="78.2" y="340.9" width="1.7" height="1.7"/><rect x="79.7" y="337.2" width="1.7" height="1.7"/><rect x="81.2" y="341.7" width="1.7" height="1.7"/><rect x="82.7" y="336.9" width="1.7" height="1.7"/><rect x="84.2" y="342.4" width="1.7" height="1.7"/><rect x="85.7" y="338.7" width="1.7" height="1.7"/><rect x="87.2" y="341.1" width="1.7" height="1.7"/><rect x="88.7" y="337.5" width="1.7" height="1.7"/><rect x="90.2" y="338.9" width="1.7" height="1.7"/><rect x="91.7" y="336.7" width="1.7" height="1.7"/><rect x="93.2" y="338.4" width="1.7" height="1.7"/><rect x="94.7" y="341.9" width="1.7" height="1.7"/><rect x="96.2" y="337.7" width="1.7" height="1.7"/><rect x="97.7" y="342.5" width="1.7" height="1.7"/><rect x="99.2" y="337.9" width="1.7" height="1.7"/><rect x="100.7" y="339.6" width="1.7" height="1.7"/><rect x="102.2" y="341.4" width="1.7" height="1.7"/><rect x="103.7" y="338.4" width="1.7" height="1.7"/><rect x="105.2" y="338.8" width="1.7" height="1.7"/><rect x="106.7" y="339.1" width="1.7" height="1.7"/><rect x="108.2" y="340.4" width="1.7" height="1.7"/><rect x="109.7" y="337.6" width="1.7" height="1.7"/><rect x="111.2" y="340.7" width="1.7" height="1.7"/><rect x="112.7" y="336.9" width="1.7" height="1.7"/><rect x="114.2" y="341.5" width="1.7" height="1.7"/><rect x="115.7" y="339.5" width="1.7" height="1.7"/><rect x="117.2" y="337.0" width="1.7" height="1.7"/><rect x="118.7" y="337.2" width="1.7" height="1.7"/><rect x="120.2" y="340.6" width="1.7" height="1.7"/><rect x="121.7" y="337.4" width="1.7" height="1.7"/><rect x="123.2" y="354.5" width="1.7" height="1.7"/><rect x="124.7" y="354.6" width="1.7" height="1.7"/><rect x="126.2" y="354.8" width="1.7" height="1.7"/><rect x="127.7" y="354.4" width="1.7" height="1.7"/><rect x="129.2" y="354.2" width="1.7" height="1.7"/><rect x="130.7" y="353.5" width="1.7" height="1.7"/><rect x="132.2" y="355.0" width="1.7" height="1.7"/><rect x="133.7" y="354.7" width="1.7" height="1.7"/><rect x="135.2" y="354.9" width="1.7" height="1.7"/><rect x="136.7" y="353.6" width="1.7" height="1.7"/><rect x="138.2" y="361.3" width="1.7" height="1.7"/><rect x="139.7" y="360.4" width="1.7" height="1.7"/><rect x="141.2" y="360.9" width="1.7" height="1.7"/><rect x="142.7" y="363.7" width="1.7" height="1.7"/><rect x="144.2" y="362.4" width="1.7" height="1.7"/><rect x="145.7" y="364.3" width="1.7" height="1.7"/><rect x="147.2" y="364.1" width="1.7" height="1.7"/><rect x="148.7" y="365.6" width="1.7" height="1.7"/><rect x="150.2" y="363.3" width="1.7" height="1.7"/><rect x="151.7" y="364.0" width="1.7" height="1.7"/><rect x="153.2" y="363.4" width="1.7" height="1.7"/><rect x="154.7" y="365.0" width="1.7" height="1.7"/><rect x="156.2" y="364.1" width="1.7" height="1.7"/><rect x="157.7" y="363.2" width="1.7" height="1.7"/><rect x="159.2" y="363.2" width="1.7" height="1.7"/><rect x="160.7" y="363.5" width="1.7" height="1.7"/><rect x="162.2" y="363.8" width="1.7" height="1.7"/><rect x="163.7" y="364.0" width="1.7" height="1.7"/><rect x="165.2" y="363.4" width="1.7" height="1.7"/><rect x="166.7" y="364.0" width="1.7" height="1.7"/><rect x="168.2" y="363.3" width="1.7" height="1.7"/><rect x="169.7" y="362.2" width="1.7" height="1.7"/><rect x="171.2" y="363.3" width="1.7" height="1.7"/><rect x="172.7" y="363.8" width="1.7" height="1.7"/><rect x="174.2" y="363.8" width="1.7" height="1.7"/><rect x="175.7" y="364.9" width="1.7" height="1.7"/><rect x="177.2" y="363.5" width="1.7" height="1.7"/><rect x="178.7" y="364.6" width="1.7" height="1.7"/><rect x="180.2" y="363.1" width="1.7" height="1.7"/><rect x="181.7" y="363.0" width="1.7" height="1.7"/><rect x="183.2" y="363.9" width="1.7" height="1.7"/><rect x="184.7" y="363.4" width="1.7" height="1.7"/><rect x="186.2" y="364.5" width="1.7" height="1.7"/><rect x="187.7" y="363.3" width="1.7" height="1.7"/><rect x="189.2" y="365.1" width="1.7" height="1.7"/><rect x="190.7" y="364.0" width="1.7" height="1.7"/><rect x="192.2" y="363.7" width="1.7" height="1.7"/><rect x="193.7" y="363.0" width="1.7" height="1.7"/><rect x="195.2" y="355.8" width="1.7" height="1.7"/><rect x="196.7" y="355.6" width="1.7" height="1.7"/><rect x="198.2" y="357.0" width="1.7" height="1.7"/><rect x="199.7" y="363.8" width="1.7" height="1.7"/><rect x="201.2" y="363.0" width="1.7" height="1.7"/><rect x="202.7" y="356.8" width="1.7" height="1.7"/><rect x="204.2" y="356.5" width="1.7" height="1.7"/><rect x="205.7" y="355.2" width="1.7" height="1.7"/><rect x="207.2" y="355.4" width="1.7" height="1.7"/><rect x="208.7" y="363.9" width="1.7" height="1.7"/><rect x="210.2" y="363.9" width="1.7" height="1.7"/><rect x="211.7" y="363.0" width="1.7" height="1.7"/><rect x="213.2" y="364.3" width="1.7" height="1.7"/><rect x="214.7" y="365.1" width="1.7" height="1.7"/><rect x="216.2" y="365.1" width="1.7" height="1.7"/><rect x="217.7" y="364.7" width="1.7" height="1.7"/><rect x="219.2" y="364.0" width="1.7" height="1.7"/><rect x="220.7" y="364.3" width="1.7" height="1.7"/><rect x="222.2" y="362.8" width="1.7" height="1.7"/><rect x="223.7" y="363.6" width="1.7" height="1.7"/><rect x="225.2" y="364.0" width="1.7" height="1.7"/><rect x="226.7" y="364.3" width="1.7" height="1.7"/><rect x="228.2" y="364.9" width="1.7" height="1.7"/><rect x="229.7" y="363.3" width="1.7" height="1.7"/><rect x="231.2" y="363.9" width="1.7" height="1.7"/><rect x="232.7" y="363.8" width="1.7" height="1.7"/><rect x="234.2" y="364.9" width="1.7" height="1.7"/><rect x="235.7" y="363.3" width="1.7" height="1.7"/><rect x="237.2" y="364.5" width="1.7" height="1.7"/><rect x="238.7" y="364.9" width="1.7" height="1.7"/><rect x="240.2" y="364.6" width="1.7" height="1.7"/><rect x="241.7" y="365.4" width="1.7" height="1.7"/><rect x="243.2" y="364.3" width="1.7" height="1.7"/><rect x="244.7" y="363.5" width="1.7" height="1.7"/><rect x="246.2" y="365.3" width="1.7" height="1.7"/><rect x="247.7" y="363.7" width="1.7" height="1.7"/><rect x="249.2" y="363.4" width="1.7" height="1.7"/><rect x="250.7" y="363.5" width="1.7" height="1.7"/><rect x="252.2" y="354.5" width="1.7" height="1.7"/><rect x="253.7" y="355.1" width="1.7" height="1.7"/><rect x="255.2" y="354.8" width="1.7" height="1.7"/><rect x="256.6" y="355.6" width="1.7" height="1.7"/><rect x="258.1" y="354.2" width="1.7" height="1.7"/><rect x="259.6" y="355.1" width="1.7" height="1.7"/><rect x="261.1" y="356.0" width="1.7" height="1.7"/><rect x="262.6" y="354.2" width="1.7" height="1.7"/><rect x="264.1" y="355.0" width="1.7" height="1.7"/><rect x="265.6" y="355.9" width="1.7" height="1.7"/><rect x="267.1" y="355.2" width="1.7" height="1.7"/><rect x="268.6" y="355.4" width="1.7" height="1.7"/><rect x="270.1" y="356.0" width="1.7" height="1.7"/><rect x="271.6" y="354.8" width="1.7" height="1.7"/><rect x="273.1" y="355.9" width="1.7" height="1.7"/><rect x="274.6" y="353.7" width="1.7" height="1.7"/><rect x="276.1" y="355.0" width="1.7" height="1.7"/><rect x="277.6" y="355.0" width="1.7" height="1.7"/><rect x="279.1" y="362.9" width="1.7" height="1.7"/><rect x="280.6" y="364.0" width="1.7" height="1.7"/><rect x="282.1" y="365.1" width="1.7" height="1.7"/><rect x="283.6" y="363.7" width="1.7" height="1.7"/><rect x="285.1" y="363.1" width="1.7" height="1.7"/><rect x="286.6" y="364.8" width="1.7" height="1.7"/><rect x="288.1" y="363.7" width="1.7" height="1.7"/><rect x="289.6" y="364.2" width="1.7" height="1.7"/><rect x="291.1" y="362.6" width="1.7" height="1.7"/><rect x="292.6" y="364.7" width="1.7" height="1.7"/><rect x="294.1" y="362.8" width="1.7" height="1.7"/><rect x="295.6" y="362.8" width="1.7" height="1.7"/><rect x="297.1" y="364.5" width="1.7" height="1.7"/><rect x="298.6" y="365.3" width="1.7" height="1.7"/><rect x="300.1" y="363.9" width="1.7" height="1.7"/><rect x="301.6" y="364.4" width="1.7" height="1.7"/><rect x="303.1" y="363.6" width="1.7" height="1.7"/><rect x="304.6" y="363.5" width="1.7" height="1.7"/><rect x="306.1" y="364.1" width="1.7" height="1.7"/><rect x="307.6" y="363.9" width="1.7" height="1.7"/><rect x="309.1" y="364.3" width="1.7" height="1.7"/><rect x="310.6" y="364.0" width="1.7" height="1.7"/><rect x="312.1" y="363.9" width="1.7" height="1.7"/><rect x="313.6" y="364.0" width="1.7" height="1.7"/><rect x="315.1" y="363.6" width="1.7" height="1.7"/><rect x="316.6" y="363.6" width="1.7" height="1.7"/><rect x="318.1" y="363.6" width="1.7" height="1.7"/><rect x="319.6" y="365.1" width="1.7" height="1.7"/><rect x="321.1" y="355.4" width="1.7" height="1.7"/><rect x="322.6" y="356.1" width="1.7" height="1.7"/><rect x="324.1" y="356.0" width="1.7" height="1.7"/><rect x="325.6" y="355.6" width="1.7" height="1.7"/><rect x="327.1" y="355.9" width="1.7" height="1.7"/><rect x="328.6" y="355.1" width="1.7" height="1.7"/><rect x="330.1" y="363.0" width="1.7" height="1.7"/><rect x="331.6" y="363.9" width="1.7" height="1.7"/><rect x="333.1" y="362.9" width="1.7" height="1.7"/><rect x="334.6" y="363.3" width="1.7" height="1.7"/><rect x="336.1" y="364.0" width="1.7" height="1.7"/><rect x="337.6" y="364.1" width="1.7" height="1.7"/><rect x="339.1" y="363.5" width="1.7" height="1.7"/><rect x="340.6" y="364.0" width="1.7" height="1.7"/><rect x="342.1" y="363.1" width="1.7" height="1.7"/><rect x="343.6" y="363.9" width="1.7" height="1.7"/><rect x="345.1" y="363.9" width="1.7" height="1.7"/><rect x="346.6" y="363.3" width="1.7" height="1.7"/><rect x="348.1" y="364.6" width="1.7" height="1.7"/><rect x="349.6" y="363.7" width="1.7" height="1.7"/><rect x="351.1" y="363.9" width="1.7" height="1.7"/><rect x="352.6" y="363.4" width="1.7" height="1.7"/><rect x="354.1" y="363.8" width="1.7" height="1.7"/><rect x="355.6" y="364.1" width="1.7" height="1.7"/><rect x="357.1" y="356.0" width="1.7" height="1.7"/><rect x="358.6" y="355.4" width="1.7" height="1.7"/><rect x="360.1" y="355.6" width="1.7" height="1.7"/><rect x="361.6" y="355.8" width="1.7" height="1.7"/><rect x="363.1" y="355.0" width="1.7" height="1.7"/><rect x="364.6" y="355.5" width="1.7" height="1.7"/><rect x="366.1" y="354.2" width="1.7" height="1.7"/><rect x="367.6" y="354.7" width="1.7" height="1.7"/><rect x="369.1" y="355.5" width="1.7" height="1.7"/><rect x="370.6" y="371.3" width="1.7" height="1.7"/><rect x="372.1" y="373.0" width="1.7" height="1.7"/><rect x="373.6" y="371.4" width="1.7" height="1.7"/><rect x="375.1" y="372.9" width="1.7" height="1.7"/><rect x="376.6" y="372.2" width="1.7" height="1.7"/><rect x="378.1" y="371.8" width="1.7" height="1.7"/><rect x="379.6" y="371.4" width="1.7" height="1.7"/><rect x="381.1" y="370.9" width="1.7" height="1.7"/><rect x="382.6" y="372.6" width="1.7" height="1.7"/><rect x="384.1" y="372.5" width="1.7" height="1.7"/><rect x="385.6" y="371.8" width="1.7" height="1.7"/><rect x="387.1" y="371.5" width="1.7" height="1.7"/><rect x="388.6" y="372.6" width="1.7" height="1.7"/><rect x="390.1" y="371.9" width="1.7" height="1.7"/><rect x="391.6" y="371.8" width="1.7" height="1.7"/><rect x="393.1" y="371.4" width="1.7" height="1.7"/><rect x="394.6" y="371.8" width="1.7" height="1.7"/><rect x="396.1" y="371.9" width="1.7" height="1.7"/><rect x="397.6" y="372.4" width="1.7" height="1.7"/><rect x="399.1" y="372.7" width="1.7" height="1.7"/><rect x="400.6" y="371.7" width="1.7" height="1.7"/><rect x="402.1" y="371.9" width="1.7" height="1.7"/><rect x="403.6" y="371.5" width="1.7" height="1.7"/><rect x="405.1" y="371.8" width="1.7" height="1.7"/><rect x="406.6" y="371.9" width="1.7" height="1.7"/><rect x="408.1" y="371.3" width="1.7" height="1.7"/><rect x="409.6" y="372.2" width="1.7" height="1.7"/><rect x="411.1" y="372.0" width="1.7" height="1.7"/><rect x="412.6" y="372.5" width="1.7" height="1.7"/><rect x="414.1" y="372.1" width="1.7" height="1.7"/><rect x="415.6" y="371.5" width="1.7" height="1.7"/><rect x="417.1" y="370.3" width="1.7" height="1.7"/><rect x="418.6" y="371.1" width="1.7" height="1.7"/><rect x="420.1" y="371.1" width="1.7" height="1.7"/><rect x="421.6" y="372.3" width="1.7" height="1.7"/><rect x="423.1" y="371.4" width="1.7" height="1.7"/><rect x="424.6" y="371.6" width="1.7" height="1.7"/><rect x="426.1" y="371.3" width="1.7" height="1.7"/><rect x="427.6" y="371.5" width="1.7" height="1.7"/><rect x="429.1" y="371.5" width="1.7" height="1.7"/><rect x="430.6" y="371.1" width="1.7" height="1.7"/><rect x="432.1" y="371.6" width="1.7" height="1.7"/><rect x="433.6" y="371.9" width="1.7" height="1.7"/><rect x="435.1" y="371.1" width="1.7" height="1.7"/><rect x="436.6" y="372.3" width="1.7" height="1.7"/><rect x="438.1" y="371.4" width="1.7" height="1.7"/><rect x="439.6" y="372.3" width="1.7" height="1.7"/><rect x="441.1" y="370.8" width="1.7" height="1.7"/><rect x="442.6" y="371.6" width="1.7" height="1.7"/><rect x="444.1" y="370.9" width="1.7" height="1.7"/><rect x="445.6" y="371.4" width="1.7" height="1.7"/><rect x="447.1" y="372.2" width="1.7" height="1.7"/><rect x="448.6" y="371.0" width="1.7" height="1.7"/><rect x="450.1" y="372.2" width="1.7" height="1.7"/><rect x="451.6" y="371.8" width="1.7" height="1.7"/><rect x="453.1" y="370.8" width="1.7" height="1.7"/><rect x="454.6" y="372.1" width="1.7" height="1.7"/><rect x="456.1" y="371.8" width="1.7" height="1.7"/><rect x="457.6" y="372.2" width="1.7" height="1.7"/><rect x="459.1" y="372.9" width="1.7" height="1.7"/><rect x="460.6" y="370.9" width="1.7" height="1.7"/><rect x="462.1" y="372.7" width="1.7" height="1.7"/><rect x="463.6" y="371.1" width="1.7" height="1.7"/><rect x="465.1" y="371.8" width="1.7" height="1.7"/><rect x="466.6" y="371.9" width="1.7" height="1.7"/><rect x="468.1" y="371.8" width="1.7" height="1.7"/><rect x="469.6" y="371.8" width="1.7" height="1.7"/><rect x="471.1" y="371.5" width="1.7" height="1.7"/><rect x="472.6" y="372.4" width="1.7" height="1.7"/><rect x="474.1" y="372.1" width="1.7" height="1.7"/><rect x="475.6" y="371.3" width="1.7" height="1.7"/><rect x="477.1" y="372.1" width="1.7" height="1.7"/><rect x="478.6" y="372.4" width="1.7" height="1.7"/><rect x="480.1" y="371.6" width="1.7" height="1.7"/><rect x="481.6" y="371.4" width="1.7" height="1.7"/><rect x="483.1" y="372.2" width="1.7" height="1.7"/><rect x="484.6" y="370.0" width="1.7" height="1.7"/><rect x="486.1" y="372.1" width="1.7" height="1.7"/><rect x="487.6" y="371.7" width="1.7" height="1.7"/><rect x="489.1" y="371.9" width="1.7" height="1.7"/><rect x="490.6" y="371.8" width="1.7" height="1.7"/><rect x="492.1" y="373.0" width="1.7" height="1.7"/><rect x="493.6" y="371.8" width="1.7" height="1.7"/><rect x="495.1" y="372.4" width="1.7" height="1.7"/><rect x="496.6" y="372.2" width="1.7" height="1.7"/><rect x="498.1" y="371.3" width="1.7" height="1.7"/><rect x="499.6" y="371.5" width="1.7" height="1.7"/><rect x="501.1" y="372.7" width="1.7" height="1.7"/><rect x="502.6" y="371.5" width="1.7" height="1.7"/><rect x="504.1" y="371.9" width="1.7" height="1.7"/><rect x="505.6" y="372.3" width="1.7" height="1.7"/><rect x="507.1" y="370.6" width="1.7" height="1.7"/><rect x="508.6" y="371.7" width="1.7" height="1.7"/><rect x="510.1" y="370.8" width="1.7" height="1.7"/><rect x="511.6" y="371.2" width="1.7" height="1.7"/><rect x="513.1" y="371.8" width="1.7" height="1.7"/><rect x="514.6" y="372.9" width="1.7" height="1.7"/><rect x="516.1" y="371.2" width="1.7" height="1.7"/><rect x="517.6" y="371.3" width="1.7" height="1.7"/><rect x="519.1" y="371.5" width="1.7" height="1.7"/><rect x="520.6" y="372.7" width="1.7" height="1.7"/><rect x="522.1" y="370.9" width="1.7" height="1.7"/><rect x="523.6" y="372.4" width="1.7" height="1.7"/><rect x="525.1" y="372.6" width="1.7" height="1.7"/><rect x="526.6" y="370.7" width="1.7" height="1.7"/><rect x="528.1" y="371.6" width="1.7" height="1.7"/><rect x="529.6" y="372.1" width="1.7" height="1.7"/><rect x="531.1" y="371.5" width="1.7" height="1.7"/><rect x="532.6" y="372.4" width="1.7" height="1.7"/><rect x="534.1" y="371.6" width="1.7" height="1.7"/><rect x="535.6" y="372.6" width="1.7" height="1.7"/><rect x="537.1" y="372.1" width="1.7" height="1.7"/><rect x="538.6" y="371.9" width="1.7" height="1.7"/><rect x="540.1" y="372.0" width="1.7" height="1.7"/><rect x="541.6" y="370.9" width="1.7" height="1.7"/><rect x="543.1" y="371.3" width="1.7" height="1.7"/><rect x="544.6" y="371.7" width="1.7" height="1.7"/><rect x="546.1" y="370.8" width="1.7" height="1.7"/><rect x="547.6" y="371.8" width="1.7" height="1.7"/><rect x="549.1" y="372.7" width="1.7" height="1.7"/><rect x="550.6" y="372.2" width="1.7" height="1.7"/><rect x="552.1" y="372.5" width="1.7" height="1.7"/><rect x="553.6" y="371.8" width="1.7" height="1.7"/><rect x="555.1" y="372.1" width="1.7" height="1.7"/><rect x="556.6" y="372.0" width="1.7" height="1.7"/><rect x="558.1" y="371.5" width="1.7" height="1.7"/><rect x="559.6" y="372.2" width="1.7" height="1.7"/><rect x="561.1" y="371.3" width="1.7" height="1.7"/><rect x="562.6" y="371.6" width="1.7" height="1.7"/><rect x="564.1" y="371.6" width="1.7" height="1.7"/><rect x="565.6" y="372.2" width="1.7" height="1.7"/><rect x="567.1" y="372.2" width="1.7" height="1.7"/><rect x="568.6" y="371.7" width="1.7" height="1.7"/><rect x="570.1" y="372.6" width="1.7" height="1.7"/><rect x="571.6" y="371.4" width="1.7" height="1.7"/><rect x="573.1" y="371.4" width="1.7" height="1.7"/><rect x="574.6" y="371.7" width="1.7" height="1.7"/><rect x="576.1" y="371.2" width="1.7" height="1.7"/><rect x="577.6" y="370.8" width="1.7" height="1.7"/><rect x="579.1" y="372.0" width="1.7" height="1.7"/><rect x="580.6" y="371.3" width="1.7" height="1.7"/><rect x="582.1" y="371.2" width="1.7" height="1.7"/><rect x="583.6" y="371.8" width="1.7" height="1.7"/><rect x="585.1" y="372.1" width="1.7" height="1.7"/><rect x="586.6" y="372.2" width="1.7" height="1.7"/><rect x="588.1" y="371.8" width="1.7" height="1.7"/><rect x="589.6" y="371.9" width="1.7" height="1.7"/><rect x="591.1" y="371.5" width="1.7" height="1.7"/><rect x="592.6" y="371.4" width="1.7" height="1.7"/><rect x="594.1" y="372.5" width="1.7" height="1.7"/><rect x="595.6" y="371.5" width="1.7" height="1.7"/><rect x="597.1" y="371.1" width="1.7" height="1.7"/><rect x="598.6" y="372.8" width="1.7" height="1.7"/><rect x="600.1" y="371.6" width="1.7" height="1.7"/><rect x="601.6" y="371.7" width="1.7" height="1.7"/><rect x="603.1" y="372.8" width="1.7" height="1.7"/><rect x="604.6" y="371.8" width="1.7" height="1.7"/><rect x="606.1" y="371.6" width="1.7" height="1.7"/><rect x="607.6" y="371.4" width="1.7" height="1.7"/><rect x="609.1" y="371.8" width="1.7" height="1.7"/><rect x="610.6" y="372.1" width="1.7" height="1.7"/><rect x="612.1" y="371.0" width="1.7" height="1.7"/><rect x="613.6" y="371.9" width="1.7" height="1.7"/><rect x="615.1" y="372.0" width="1.7" height="1.7"/><rect x="616.6" y="370.7" width="1.7" height="1.7"/><rect x="618.1" y="371.0" width="1.7" height="1.7"/><rect x="619.6" y="371.7" width="1.7" height="1.7"/><rect x="621.1" y="371.7" width="1.7" height="1.7"/><rect x="622.6" y="370.3" width="1.7" height="1.7"/><rect x="624.1" y="372.2" width="1.7" height="1.7"/><rect x="625.6" y="372.5" width="1.7" height="1.7"/><rect x="627.1" y="371.4" width="1.7" height="1.7"/><rect x="628.6" y="371.5" width="1.7" height="1.7"/><rect x="630.1" y="371.3" width="1.7" height="1.7"/><rect x="631.6" y="372.2" width="1.7" height="1.7"/><rect x="633.1" y="372.0" width="1.7" height="1.7"/><rect x="634.6" y="371.7" width="1.7" height="1.7"/><rect x="636.1" y="371.5" width="1.7" height="1.7"/><rect x="637.6" y="371.8" width="1.7" height="1.7"/><rect x="639.1" y="371.0" width="1.7" height="1.7"/><rect x="640.6" y="372.6" width="1.7" height="1.7"/><rect x="642.1" y="370.4" width="1.7" height="1.7"/><rect x="643.6" y="371.8" width="1.7" height="1.7"/><rect x="645.1" y="371.2" width="1.7" height="1.7"/><rect x="646.6" y="372.0" width="1.7" height="1.7"/><rect x="648.1" y="371.7" width="1.7" height="1.7"/><rect x="649.6" y="372.5" width="1.7" height="1.7"/><rect x="651.1" y="371.8" width="1.7" height="1.7"/><rect x="652.6" y="372.0" width="1.7" height="1.7"/><rect x="654.1" y="371.5" width="1.7" height="1.7"/><rect x="655.6" y="372.3" width="1.7" height="1.7"/><rect x="657.1" y="371.8" width="1.7" height="1.7"/><rect x="658.6" y="371.8" width="1.7" height="1.7"/><rect x="660.1" y="371.1" width="1.7" height="1.7"/><rect x="661.6" y="372.3" width="1.7" height="1.7"/><rect x="663.1" y="373.3" width="1.7" height="1.7"/><rect x="664.6" y="372.2" width="1.7" height="1.7"/><rect x="666.1" y="371.5" width="1.7" height="1.7"/><rect x="667.6" y="371.5" width="1.7" height="1.7"/><rect x="669.1" y="372.9" width="1.7" height="1.7"/><rect x="670.6" y="371.0" width="1.7" height="1.7"/><rect x="672.1" y="371.3" width="1.7" height="1.7"/><rect x="673.6" y="371.5" width="1.7" height="1.7"/><rect x="675.1" y="371.0" width="1.7" height="1.7"/><rect x="676.6" y="371.2" width="1.7" height="1.7"/><rect x="678.1" y="371.3" width="1.7" height="1.7"/><rect x="679.6" y="371.9" width="1.7" height="1.7"/><rect x="681.1" y="355.6" width="1.7" height="1.7"/><rect x="682.6" y="356.6" width="1.7" height="1.7"/><rect x="684.1" y="355.7" width="1.7" height="1.7"/><rect x="685.6" y="355.6" width="1.7" height="1.7"/><rect x="687.1" y="355.9" width="1.7" height="1.7"/><rect x="688.6" y="356.1" width="1.7" height="1.7"/><rect x="690.1" y="355.3" width="1.7" height="1.7"/><rect x="691.6" y="356.0" width="1.7" height="1.7"/><rect x="693.1" y="356.0" width="1.7" height="1.7"/><rect x="694.6" y="355.6" width="1.7" height="1.7"/><rect x="696.1" y="355.6" width="1.7" height="1.7"/><rect x="697.6" y="356.5" width="1.7" height="1.7"/><rect x="699.1" y="356.0" width="1.7" height="1.7"/><circle cx="34.0" cy="356.6" r="1.0"/><circle cx="36.5" cy="351.6" r="1.0"/><circle cx="38.0" cy="361.5" r="1.0"/><circle cx="41.0" cy="351.6" r="1.0"/><circle cx="44.0" cy="365.6" r="1.0"/><circle cx="46.0" cy="350.0" r="1.0"/><circle cx="49.0" cy="346.7" r="1.0"/><circle cx="70.5" cy="359.0" r="1.0"/><circle cx="72.0" cy="351.6" r="1.0"/><circle cx="89.0" cy="351.6" r="1.0"/><circle cx="119.0" cy="354.9" r="1.0"/><circle cx="159.0" cy="374.6" r="1.0"/><circle cx="185.0" cy="376.3" r="1.0"/><circle cx="208.5" cy="369.7" r="1.0"/><circle cx="232.0" cy="379.5" r="1.0"/><circle cx="262.5" cy="365.6" r="1.0"/><circle cx="286.5" cy="379.5" r="1.0"/><circle cx="308.0" cy="374.6" r="1.0"/><circle cx="322.0" cy="379.5" r="1.0"/><circle cx="346.0" cy="376.3" r="1.0"/><circle cx="352.0" cy="377.9" r="1.0"/><circle cx="385.5" cy="386.1" r="1.0"/><circle cx="413.0" cy="386.1" r="1.0"/><circle cx="456.0" cy="382.8" r="1.0"/><circle cx="489.0" cy="382.8" r="1.0"/><circle cx="512.0" cy="377.9" r="1.0"/><circle cx="526.5" cy="386.1" r="1.0"/><circle cx="560.0" cy="379.5" r="1.0"/><circle cx="591.0" cy="381.2" r="1.0"/><circle cx="633.5" cy="384.5" r="1.0"/><circle cx="655.5" cy="386.9" r="1.0"/><circle cx="699.5" cy="366.4" r="1.0"/></g>
</svg>

<!-- scrollbar -->
<div class="abs" style="left:31px;top:451.5px;width:669px;height:6.2px;background:#29a9f5;border-radius:1px"></div>
<div class="abs" style="left:30.5px;top:450px;width:10px;height:9px;background:#e9e9ee;border:0.8px solid #b4b4bc;border-radius:1.2px"></div>
<div class="abs" style="left:690.7px;top:450px;width:10px;height:9px;background:#e9e9ee;border:0.8px solid #b4b4bc;border-radius:1.2px"></div>
<div class="abs" style="left:33.6px;top:452.8px;width:4px;height:3.6px;background:linear-gradient(#7c83aa 0 25%,transparent 25% 38%,#7c83aa 38% 62%,transparent 62% 75%,#7c83aa 75% 100%)"></div>
<div class="abs" style="left:693.8px;top:452.8px;width:4px;height:3.6px;background:linear-gradient(#7c83aa 0 25%,transparent 25% 38%,#7c83aa 38% 62%,transparent 62% 75%,#7c83aa 75% 100%)"></div>

<!-- legend -->
<svg class="chart" width="730" height="473" viewBox="0 0 730 473">
<g font-family="Liberation Sans, sans-serif" font-size="5.8" fill="#333">
<g stroke-width="1.6">
<line x1="230" x2="238" y1="465.5" y2="465.5" stroke="#c63dc0"/><circle cx="234" cy="465.5" r="1.1" fill="#c63dc0"/>
<line x1="260" x2="268" y1="465.5" y2="465.5" stroke="#3cae4a"/>
<line x1="302" x2="310" y1="465.5" y2="465.5" stroke="#3f46e0"/>
<line x1="349" x2="357" y1="465.5" y2="465.5" stroke="#f08a3c"/><circle cx="353" cy="465.5" r="1.1" fill="#f08a3c"/>
<line x1="382" x2="390" y1="465.5" y2="465.5" stroke="#e5322d"/>
<line x1="423" x2="431" y1="465.5" y2="465.5" stroke="#3b8fee"/>
<line x1="463" x2="471" y1="465.5" y2="465.5" stroke="#2ec4dc"/>
</g>
<text x="242" y="467.6">FPS</text>
<text x="272" y="467.6">Smooth</text>
<text x="314" y="467.6">SmallJank</text>
<text x="361" y="467.6">Jank</text>
<text x="394" y="467.6">BigJank</text>
<text x="435" y="467.6">Stutter</text>
<text x="475" y="467.6">InterFrame</text>
</g></svg>
</body>
</html>
